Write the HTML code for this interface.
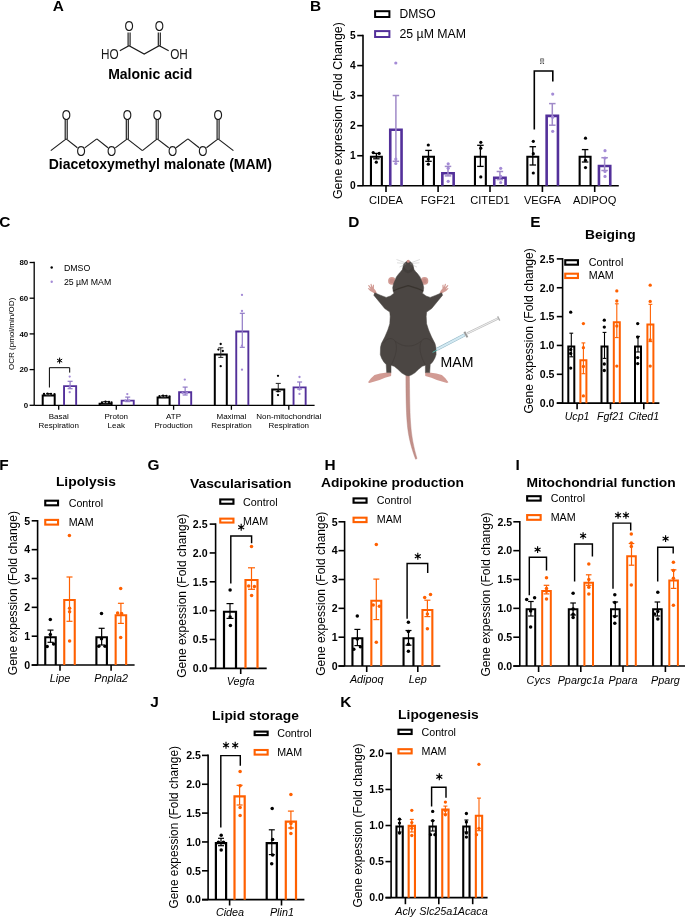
<!DOCTYPE html><html><head><meta charset="utf-8"><style>html,body{margin:0;padding:0;background:#fff;}svg{display:block;will-change:transform;}</style></head><body><svg width="685" height="918" viewBox="0 0 685 918" font-family='"Liberation Sans", sans-serif'>
<rect width="685" height="918" fill="#fff"/>
<text x="52.73" y="10.50" font-size="15.4" font-weight="bold" font-style="normal" text-anchor="start" fill="#000" >A</text>
<text x="310.12" y="10.50" font-size="15.4" font-weight="bold" font-style="normal" text-anchor="start" fill="#000" >B</text>
<text x="-0.73" y="227.00" font-size="15.4" font-weight="bold" font-style="normal" text-anchor="start" fill="#000" >C</text>
<text x="348.22" y="226.90" font-size="15.4" font-weight="bold" font-style="normal" text-anchor="start" fill="#000" >D</text>
<text x="530.22" y="226.90" font-size="15.4" font-weight="bold" font-style="normal" text-anchor="start" fill="#000" >E</text>
<text x="-0.83" y="469.70" font-size="15.4" font-weight="bold" font-style="normal" text-anchor="start" fill="#000" >F</text>
<text x="147.53" y="469.90" font-size="15.4" font-weight="bold" font-style="normal" text-anchor="start" fill="#000" >G</text>
<text x="324.42" y="469.70" font-size="15.4" font-weight="bold" font-style="normal" text-anchor="start" fill="#000" >H</text>
<text x="515.42" y="469.70" font-size="15.4" font-weight="bold" font-style="normal" text-anchor="start" fill="#000" >I</text>
<text x="150.15" y="707.40" font-size="15.4" font-weight="bold" font-style="normal" text-anchor="start" fill="#000" >J</text>
<text x="340.32" y="707.40" font-size="15.4" font-weight="bold" font-style="normal" text-anchor="start" fill="#000" >K</text>
<path d="M119.8,50.8 L129,45.7 L144.2,54.1 L159.2,45.7 L168.7,50.8" stroke="#1a1a1a" stroke-width="1.15" fill="none" stroke-linejoin="miter"/>
<line x1="128.10" y1="45.70" x2="128.10" y2="32.50" stroke="#1a1a1a" stroke-width="1.15" stroke-linecap="butt"/>
<line x1="130.10" y1="45.70" x2="130.10" y2="32.50" stroke="#1a1a1a" stroke-width="1.15" stroke-linecap="butt"/>
<line x1="158.30" y1="45.70" x2="158.30" y2="32.50" stroke="#1a1a1a" stroke-width="1.15" stroke-linecap="butt"/>
<line x1="160.30" y1="45.70" x2="160.30" y2="32.50" stroke="#1a1a1a" stroke-width="1.15" stroke-linecap="butt"/>
<text transform="translate(129.10,31.20) scale(1,1.2)" font-size="11.8" text-anchor="middle" fill="#1a1a1a">O</text>
<text transform="translate(159.30,31.20) scale(1,1.2)" font-size="11.8" text-anchor="middle" fill="#1a1a1a">O</text>
<text transform="translate(101.00,59.30) scale(1,1.2)" font-size="11.8" text-anchor="start" fill="#1a1a1a">HO</text>
<text transform="translate(170.20,59.30) scale(1,1.2)" font-size="11.8" text-anchor="start" fill="#1a1a1a">OH</text>
<text x="150.20" y="79.30" font-size="14" font-weight="bold" font-style="normal" text-anchor="middle" fill="#000" >Malonic acid</text>
<line x1="50.80" y1="150.60" x2="66.20" y2="138.90" stroke="#1a1a1a" stroke-width="1.15" stroke-linecap="butt"/>
<line x1="66.20" y1="138.90" x2="77.39" y2="147.75" stroke="#1a1a1a" stroke-width="1.15" stroke-linecap="butt"/>
<line x1="84.70" y1="147.86" x2="96.80" y2="138.90" stroke="#1a1a1a" stroke-width="1.15" stroke-linecap="butt"/>
<line x1="96.80" y1="138.90" x2="107.99" y2="147.75" stroke="#1a1a1a" stroke-width="1.15" stroke-linecap="butt"/>
<line x1="115.29" y1="147.85" x2="127.30" y2="138.90" stroke="#1a1a1a" stroke-width="1.15" stroke-linecap="butt"/>
<line x1="127.30" y1="138.90" x2="142.40" y2="150.60" stroke="#1a1a1a" stroke-width="1.15" stroke-linecap="butt"/>
<line x1="142.40" y1="150.60" x2="157.20" y2="138.90" stroke="#1a1a1a" stroke-width="1.15" stroke-linecap="butt"/>
<line x1="157.20" y1="138.90" x2="168.75" y2="147.79" stroke="#1a1a1a" stroke-width="1.15" stroke-linecap="butt"/>
<line x1="176.07" y1="147.83" x2="187.90" y2="138.90" stroke="#1a1a1a" stroke-width="1.15" stroke-linecap="butt"/>
<line x1="187.90" y1="138.90" x2="199.18" y2="147.76" stroke="#1a1a1a" stroke-width="1.15" stroke-linecap="butt"/>
<line x1="206.45" y1="147.81" x2="218.10" y2="138.90" stroke="#1a1a1a" stroke-width="1.15" stroke-linecap="butt"/>
<line x1="218.10" y1="138.90" x2="233.40" y2="150.60" stroke="#1a1a1a" stroke-width="1.15" stroke-linecap="butt"/>
<line x1="65.20" y1="138.90" x2="65.20" y2="119.60" stroke="#1a1a1a" stroke-width="1.15" stroke-linecap="butt"/>
<line x1="67.20" y1="138.90" x2="67.20" y2="119.60" stroke="#1a1a1a" stroke-width="1.15" stroke-linecap="butt"/>
<text transform="translate(66.30,119.50) scale(1,1.2)" font-size="11.8" text-anchor="middle" fill="#1a1a1a">O</text>
<line x1="126.30" y1="138.90" x2="126.30" y2="119.60" stroke="#1a1a1a" stroke-width="1.15" stroke-linecap="butt"/>
<line x1="128.30" y1="138.90" x2="128.30" y2="119.60" stroke="#1a1a1a" stroke-width="1.15" stroke-linecap="butt"/>
<text transform="translate(127.40,119.50) scale(1,1.2)" font-size="11.8" text-anchor="middle" fill="#1a1a1a">O</text>
<line x1="156.20" y1="138.90" x2="156.20" y2="119.60" stroke="#1a1a1a" stroke-width="1.15" stroke-linecap="butt"/>
<line x1="158.20" y1="138.90" x2="158.20" y2="119.60" stroke="#1a1a1a" stroke-width="1.15" stroke-linecap="butt"/>
<text transform="translate(157.30,119.50) scale(1,1.2)" font-size="11.8" text-anchor="middle" fill="#1a1a1a">O</text>
<line x1="217.10" y1="138.90" x2="217.10" y2="119.60" stroke="#1a1a1a" stroke-width="1.15" stroke-linecap="butt"/>
<line x1="219.10" y1="138.90" x2="219.10" y2="119.60" stroke="#1a1a1a" stroke-width="1.15" stroke-linecap="butt"/>
<text transform="translate(218.20,119.50) scale(1,1.2)" font-size="11.8" text-anchor="middle" fill="#1a1a1a">O</text>
<text transform="translate(81.10,156.40) scale(1,1.2)" font-size="11.8" text-anchor="middle" fill="#1a1a1a">O</text>
<text transform="translate(111.70,156.40) scale(1,1.2)" font-size="11.8" text-anchor="middle" fill="#1a1a1a">O</text>
<text transform="translate(172.50,156.40) scale(1,1.2)" font-size="11.8" text-anchor="middle" fill="#1a1a1a">O</text>
<text transform="translate(202.90,156.40) scale(1,1.2)" font-size="11.8" text-anchor="middle" fill="#1a1a1a">O</text>
<text x="160.30" y="168.80" font-size="14" font-weight="bold" font-style="normal" text-anchor="middle" fill="#000" >Diacetoxymethyl malonate (MAM)</text>
<text transform="translate(342.20,110.60) rotate(-90)" x="0" y="0" font-size="12.45" text-anchor="middle" fill="#000">Gene expression (Fold Change)</text>
<line x1="363.00" y1="34.75" x2="363.00" y2="185.80" stroke="#000" stroke-width="1.6" stroke-linecap="butt"/>
<line x1="357.20" y1="185.80" x2="363.00" y2="185.80" stroke="#000" stroke-width="1.6" stroke-linecap="butt"/>
<text x="355.60" y="189.47" font-size="10.2" font-weight="bold" font-style="normal" text-anchor="end" fill="#000" >0</text>
<line x1="357.20" y1="155.75" x2="363.00" y2="155.75" stroke="#000" stroke-width="1.6" stroke-linecap="butt"/>
<text x="355.60" y="159.42" font-size="10.2" font-weight="bold" font-style="normal" text-anchor="end" fill="#000" >1</text>
<line x1="357.20" y1="125.70" x2="363.00" y2="125.70" stroke="#000" stroke-width="1.6" stroke-linecap="butt"/>
<text x="355.60" y="129.37" font-size="10.2" font-weight="bold" font-style="normal" text-anchor="end" fill="#000" >2</text>
<line x1="357.20" y1="95.65" x2="363.00" y2="95.65" stroke="#000" stroke-width="1.6" stroke-linecap="butt"/>
<text x="355.60" y="99.32" font-size="10.2" font-weight="bold" font-style="normal" text-anchor="end" fill="#000" >3</text>
<line x1="357.20" y1="65.60" x2="363.00" y2="65.60" stroke="#000" stroke-width="1.6" stroke-linecap="butt"/>
<text x="355.60" y="69.27" font-size="10.2" font-weight="bold" font-style="normal" text-anchor="end" fill="#000" >4</text>
<line x1="357.20" y1="35.55" x2="363.00" y2="35.55" stroke="#000" stroke-width="1.6" stroke-linecap="butt"/>
<text x="355.60" y="39.22" font-size="10.2" font-weight="bold" font-style="normal" text-anchor="end" fill="#000" >5</text>
<line x1="363.00" y1="185.80" x2="618.80" y2="185.80" stroke="#000" stroke-width="1.6" stroke-linecap="butt"/>
<line x1="386.00" y1="185.80" x2="386.00" y2="192.00" stroke="#000" stroke-width="1.6" stroke-linecap="butt"/>
<line x1="438.10" y1="185.80" x2="438.10" y2="192.00" stroke="#000" stroke-width="1.6" stroke-linecap="butt"/>
<line x1="490.00" y1="185.80" x2="490.00" y2="192.00" stroke="#000" stroke-width="1.6" stroke-linecap="butt"/>
<line x1="542.40" y1="185.80" x2="542.40" y2="192.00" stroke="#000" stroke-width="1.6" stroke-linecap="butt"/>
<line x1="594.70" y1="185.80" x2="594.70" y2="192.00" stroke="#000" stroke-width="1.6" stroke-linecap="butt"/>
<text x="386.00" y="204.40" font-size="11.1" font-weight="normal" font-style="normal" text-anchor="middle" fill="#000" >CIDEA</text>
<text x="438.10" y="204.40" font-size="11.1" font-weight="normal" font-style="normal" text-anchor="middle" fill="#000" >FGF21</text>
<text x="490.00" y="204.40" font-size="11.1" font-weight="normal" font-style="normal" text-anchor="middle" fill="#000" >CITED1</text>
<text x="542.40" y="204.40" font-size="11.1" font-weight="normal" font-style="normal" text-anchor="middle" fill="#000" >VEGFA</text>
<text x="594.70" y="204.40" font-size="11.1" font-weight="normal" font-style="normal" text-anchor="middle" fill="#000" >ADIPOQ</text>
<path d="M370.95,185.80 V156.80 H381.85 V185.80" stroke="#000" stroke-width="2.1" fill="none"/>
<line x1="376.40" y1="153.40" x2="376.40" y2="158.80" stroke="#000" stroke-width="1.3" stroke-linecap="butt"/>
<line x1="373.15" y1="153.40" x2="379.65" y2="153.40" stroke="#000" stroke-width="1.3" stroke-linecap="butt"/>
<line x1="373.15" y1="158.80" x2="379.65" y2="158.80" stroke="#000" stroke-width="1.3" stroke-linecap="butt"/>
<circle cx="373.20" cy="152.60" r="1.6" fill="#000"/>
<circle cx="379.20" cy="153.40" r="1.6" fill="#000"/>
<circle cx="376.30" cy="162.20" r="1.6" fill="#000"/>
<path d="M390.25,185.80 V129.79 H401.55 V185.80" stroke="#53309a" stroke-width="2.6" fill="none"/>
<line x1="395.90" y1="95.50" x2="395.90" y2="161.30" stroke="#a08ac8" stroke-width="1.5" stroke-linecap="butt"/>
<line x1="392.65" y1="95.50" x2="399.15" y2="95.50" stroke="#a08ac8" stroke-width="1.5" stroke-linecap="butt"/>
<line x1="392.65" y1="161.30" x2="399.15" y2="161.30" stroke="#a08ac8" stroke-width="1.5" stroke-linecap="butt"/>
<circle cx="395.80" cy="63.00" r="1.6" fill="#a48bd6"/>
<circle cx="395.80" cy="159.10" r="1.6" fill="#a48bd6"/>
<circle cx="395.80" cy="163.50" r="1.6" fill="#a48bd6"/>
<path d="M423.05,185.80 V156.80 H433.95 V185.80" stroke="#000" stroke-width="2.1" fill="none"/>
<line x1="428.50" y1="150.40" x2="428.50" y2="161.30" stroke="#000" stroke-width="1.3" stroke-linecap="butt"/>
<line x1="425.25" y1="150.40" x2="431.75" y2="150.40" stroke="#000" stroke-width="1.3" stroke-linecap="butt"/>
<line x1="425.25" y1="161.30" x2="431.75" y2="161.30" stroke="#000" stroke-width="1.3" stroke-linecap="butt"/>
<circle cx="428.30" cy="145.00" r="1.6" fill="#000"/>
<circle cx="428.30" cy="159.10" r="1.6" fill="#000"/>
<circle cx="428.30" cy="164.20" r="1.6" fill="#000"/>
<path d="M442.35,185.80 V173.28 H453.65 V185.80" stroke="#53309a" stroke-width="2.6" fill="none"/>
<line x1="448.00" y1="166.40" x2="448.00" y2="175.90" stroke="#a08ac8" stroke-width="1.5" stroke-linecap="butt"/>
<line x1="444.75" y1="166.40" x2="451.25" y2="166.40" stroke="#a08ac8" stroke-width="1.5" stroke-linecap="butt"/>
<line x1="444.75" y1="175.90" x2="451.25" y2="175.90" stroke="#a08ac8" stroke-width="1.5" stroke-linecap="butt"/>
<circle cx="448.20" cy="163.80" r="1.6" fill="#a48bd6"/>
<circle cx="448.20" cy="168.20" r="1.6" fill="#a48bd6"/>
<circle cx="448.20" cy="181.30" r="1.6" fill="#a48bd6"/>
<path d="M474.95,185.80 V156.80 H485.85 V185.80" stroke="#000" stroke-width="2.1" fill="none"/>
<line x1="480.40" y1="145.30" x2="480.40" y2="166.40" stroke="#000" stroke-width="1.3" stroke-linecap="butt"/>
<line x1="477.15" y1="145.30" x2="483.65" y2="145.30" stroke="#000" stroke-width="1.3" stroke-linecap="butt"/>
<line x1="477.15" y1="166.40" x2="483.65" y2="166.40" stroke="#000" stroke-width="1.3" stroke-linecap="butt"/>
<circle cx="480.80" cy="142.30" r="1.6" fill="#000"/>
<circle cx="480.80" cy="148.20" r="1.6" fill="#000"/>
<circle cx="480.80" cy="176.90" r="1.6" fill="#000"/>
<path d="M494.25,185.80 V177.78 H505.55 V185.80" stroke="#53309a" stroke-width="2.6" fill="none"/>
<line x1="499.90" y1="171.50" x2="499.90" y2="179.60" stroke="#a08ac8" stroke-width="1.5" stroke-linecap="butt"/>
<line x1="496.65" y1="171.50" x2="503.15" y2="171.50" stroke="#a08ac8" stroke-width="1.5" stroke-linecap="butt"/>
<line x1="496.65" y1="179.60" x2="503.15" y2="179.60" stroke="#a08ac8" stroke-width="1.5" stroke-linecap="butt"/>
<circle cx="500.70" cy="168.30" r="1.6" fill="#a48bd6"/>
<circle cx="500.70" cy="176.40" r="1.6" fill="#a48bd6"/>
<circle cx="500.70" cy="182.50" r="1.6" fill="#a48bd6"/>
<path d="M527.35,185.80 V156.80 H538.25 V185.80" stroke="#000" stroke-width="2.1" fill="none"/>
<line x1="532.80" y1="146.70" x2="532.80" y2="165.00" stroke="#000" stroke-width="1.3" stroke-linecap="butt"/>
<line x1="529.55" y1="146.70" x2="536.05" y2="146.70" stroke="#000" stroke-width="1.3" stroke-linecap="butt"/>
<line x1="529.55" y1="165.00" x2="536.05" y2="165.00" stroke="#000" stroke-width="1.3" stroke-linecap="butt"/>
<circle cx="533.30" cy="141.30" r="1.6" fill="#000"/>
<circle cx="533.30" cy="153.70" r="1.6" fill="#000"/>
<circle cx="533.30" cy="173.00" r="1.6" fill="#000"/>
<path d="M546.65,185.80 V115.88 H557.95 V185.80" stroke="#53309a" stroke-width="2.6" fill="none"/>
<line x1="552.30" y1="103.60" x2="552.30" y2="125.20" stroke="#a08ac8" stroke-width="1.5" stroke-linecap="butt"/>
<line x1="549.05" y1="103.60" x2="555.55" y2="103.60" stroke="#a08ac8" stroke-width="1.5" stroke-linecap="butt"/>
<line x1="549.05" y1="125.20" x2="555.55" y2="125.20" stroke="#a08ac8" stroke-width="1.5" stroke-linecap="butt"/>
<circle cx="552.70" cy="94.10" r="1.6" fill="#a48bd6"/>
<circle cx="552.70" cy="117.20" r="1.6" fill="#a48bd6"/>
<circle cx="552.70" cy="131.30" r="1.6" fill="#a48bd6"/>
<path d="M579.65,185.80 V156.80 H590.55 V185.80" stroke="#000" stroke-width="2.1" fill="none"/>
<line x1="585.10" y1="149.60" x2="585.10" y2="162.00" stroke="#000" stroke-width="1.3" stroke-linecap="butt"/>
<line x1="581.85" y1="149.60" x2="588.35" y2="149.60" stroke="#000" stroke-width="1.3" stroke-linecap="butt"/>
<line x1="581.85" y1="162.00" x2="588.35" y2="162.00" stroke="#000" stroke-width="1.3" stroke-linecap="butt"/>
<circle cx="585.50" cy="138.20" r="1.6" fill="#000"/>
<circle cx="585.50" cy="160.30" r="1.6" fill="#000"/>
<circle cx="585.50" cy="167.60" r="1.6" fill="#000"/>
<path d="M598.95,185.80 V166.07 H610.25 V185.80" stroke="#53309a" stroke-width="2.6" fill="none"/>
<line x1="604.60" y1="157.70" x2="604.60" y2="170.50" stroke="#a08ac8" stroke-width="1.5" stroke-linecap="butt"/>
<line x1="601.35" y1="157.70" x2="607.85" y2="157.70" stroke="#a08ac8" stroke-width="1.5" stroke-linecap="butt"/>
<line x1="601.35" y1="170.50" x2="607.85" y2="170.50" stroke="#a08ac8" stroke-width="1.5" stroke-linecap="butt"/>
<circle cx="605.00" cy="150.70" r="1.6" fill="#a48bd6"/>
<circle cx="605.00" cy="158.00" r="1.6" fill="#a48bd6"/>
<circle cx="605.00" cy="171.50" r="1.6" fill="#a48bd6"/>
<circle cx="605.00" cy="176.40" r="1.6" fill="#a48bd6"/>
<path d="M534.3,129.6 V71.0 H552.8 V81.4" stroke="#000" stroke-width="1.6" fill="none" stroke-linejoin="miter"/>
<rect x="540.3" y="58.4" width="3.5" height="5.4" fill="#d8d8d8" stroke="none"/>
<path d="M540.5,61.6 V58.8 H543.6 V61.6" fill="none" stroke="#666" stroke-width="0.8"/>
<path d="M540.6,59.6 L543.5,63.4 M543.5,59.6 L540.6,63.4" stroke="#999" stroke-width="0.6"/>
<circle cx="540.70" cy="63.30" r="0.65" fill="#333"/>
<circle cx="543.50" cy="63.30" r="0.65" fill="#333"/>
<rect x="375.10" y="11.20" width="14.30" height="5.80" stroke="#000" stroke-width="2.0" fill="none"/>
<rect x="375.10" y="31.10" width="14.30" height="5.90" stroke="#53309a" stroke-width="2.0" fill="none"/>
<text x="399.50" y="18.40" font-size="12.1" font-weight="normal" font-style="normal" text-anchor="start" fill="#000" >DMSO</text>
<text x="399.50" y="38.30" font-size="12.3" font-weight="normal" font-style="normal" text-anchor="start" fill="#000" >25 µM MAM</text>
<text transform="translate(14.30,333.90) rotate(-90)" x="0" y="0" font-size="8.05" text-anchor="middle" fill="#000">OCR (pmol/min/OD)</text>
<line x1="34.20" y1="261.85" x2="34.20" y2="405.30" stroke="#000" stroke-width="1.3" stroke-linecap="butt"/>
<line x1="29.60" y1="405.30" x2="34.20" y2="405.30" stroke="#000" stroke-width="1.3" stroke-linecap="butt"/>
<text x="28.20" y="408.14" font-size="7.9" font-weight="bold" font-style="normal" text-anchor="end" fill="#000" >0</text>
<line x1="29.60" y1="369.60" x2="34.20" y2="369.60" stroke="#000" stroke-width="1.3" stroke-linecap="butt"/>
<text x="28.20" y="372.44" font-size="7.9" font-weight="bold" font-style="normal" text-anchor="end" fill="#000" >20</text>
<line x1="29.60" y1="333.90" x2="34.20" y2="333.90" stroke="#000" stroke-width="1.3" stroke-linecap="butt"/>
<text x="28.20" y="336.74" font-size="7.9" font-weight="bold" font-style="normal" text-anchor="end" fill="#000" >40</text>
<line x1="29.60" y1="298.20" x2="34.20" y2="298.20" stroke="#000" stroke-width="1.3" stroke-linecap="butt"/>
<text x="28.20" y="301.04" font-size="7.9" font-weight="bold" font-style="normal" text-anchor="end" fill="#000" >60</text>
<line x1="29.60" y1="262.50" x2="34.20" y2="262.50" stroke="#000" stroke-width="1.3" stroke-linecap="butt"/>
<text x="28.20" y="265.34" font-size="7.9" font-weight="bold" font-style="normal" text-anchor="end" fill="#000" >80</text>
<line x1="34.20" y1="405.30" x2="314.60" y2="405.30" stroke="#000" stroke-width="1.3" stroke-linecap="butt"/>
<line x1="58.70" y1="405.30" x2="58.70" y2="409.80" stroke="#000" stroke-width="1.3" stroke-linecap="butt"/>
<line x1="116.30" y1="405.30" x2="116.30" y2="409.80" stroke="#000" stroke-width="1.3" stroke-linecap="butt"/>
<line x1="173.60" y1="405.30" x2="173.60" y2="409.80" stroke="#000" stroke-width="1.3" stroke-linecap="butt"/>
<line x1="231.40" y1="405.30" x2="231.40" y2="409.80" stroke="#000" stroke-width="1.3" stroke-linecap="butt"/>
<line x1="288.80" y1="405.30" x2="288.80" y2="409.80" stroke="#000" stroke-width="1.3" stroke-linecap="butt"/>
<text x="58.70" y="418.90" font-size="8.0" font-weight="normal" font-style="normal" text-anchor="middle" fill="#000" >Basal</text>
<text x="58.70" y="428.10" font-size="8.0" font-weight="normal" font-style="normal" text-anchor="middle" fill="#000" >Respiration</text>
<text x="116.30" y="418.90" font-size="8.0" font-weight="normal" font-style="normal" text-anchor="middle" fill="#000" >Proton</text>
<text x="116.30" y="428.10" font-size="8.0" font-weight="normal" font-style="normal" text-anchor="middle" fill="#000" >Leak</text>
<text x="173.60" y="418.90" font-size="8.0" font-weight="normal" font-style="normal" text-anchor="middle" fill="#000" >ATP</text>
<text x="173.60" y="428.10" font-size="8.0" font-weight="normal" font-style="normal" text-anchor="middle" fill="#000" >Production</text>
<text x="231.40" y="418.90" font-size="8.0" font-weight="normal" font-style="normal" text-anchor="middle" fill="#000" >Maximal</text>
<text x="231.40" y="428.10" font-size="8.0" font-weight="normal" font-style="normal" text-anchor="middle" fill="#000" >Respiration</text>
<text x="288.80" y="418.90" font-size="8.0" font-weight="normal" font-style="normal" text-anchor="middle" fill="#000" >Non-mitochondrial</text>
<text x="288.80" y="428.10" font-size="8.0" font-weight="normal" font-style="normal" text-anchor="middle" fill="#000" >Respiration</text>
<path d="M42.70,405.30 V395.50 H54.70 V405.30" stroke="#000" stroke-width="2.0" fill="none"/>
<line x1="48.70" y1="393.50" x2="48.70" y2="395.50" stroke="#222" stroke-width="1.0" stroke-linecap="butt"/>
<line x1="46.20" y1="393.50" x2="51.20" y2="393.50" stroke="#222" stroke-width="1.0" stroke-linecap="butt"/>
<line x1="46.20" y1="395.50" x2="51.20" y2="395.50" stroke="#222" stroke-width="1.0" stroke-linecap="butt"/>
<circle cx="44.00" cy="394.00" r="1.15" fill="#000"/>
<circle cx="47.50" cy="393.60" r="1.15" fill="#000"/>
<circle cx="51.00" cy="393.80" r="1.15" fill="#000"/>
<circle cx="54.50" cy="394.20" r="1.15" fill="#000"/>
<path d="M64.05,405.30 V386.15 H76.15 V405.30" stroke="#53309a" stroke-width="1.9" fill="none"/>
<line x1="70.10" y1="381.30" x2="70.10" y2="388.70" stroke="#9079c6" stroke-width="1.2" stroke-linecap="butt"/>
<line x1="67.60" y1="381.30" x2="72.60" y2="381.30" stroke="#9079c6" stroke-width="1.2" stroke-linecap="butt"/>
<line x1="67.60" y1="388.70" x2="72.60" y2="388.70" stroke="#9079c6" stroke-width="1.2" stroke-linecap="butt"/>
<circle cx="69.70" cy="376.60" r="1.15" fill="#a48bd6"/>
<circle cx="69.70" cy="387.50" r="1.15" fill="#a48bd6"/>
<circle cx="69.70" cy="392.20" r="1.15" fill="#a48bd6"/>
<path d="M99.60,405.30 V403.70 H111.60 V405.30" stroke="#000" stroke-width="2.0" fill="none"/>
<line x1="105.60" y1="401.60" x2="105.60" y2="403.80" stroke="#222" stroke-width="1.0" stroke-linecap="butt"/>
<line x1="103.10" y1="401.60" x2="108.10" y2="401.60" stroke="#222" stroke-width="1.0" stroke-linecap="butt"/>
<line x1="103.10" y1="403.80" x2="108.10" y2="403.80" stroke="#222" stroke-width="1.0" stroke-linecap="butt"/>
<circle cx="102.00" cy="402.30" r="1.15" fill="#000"/>
<circle cx="105.50" cy="401.60" r="1.15" fill="#000"/>
<circle cx="109.00" cy="402.00" r="1.15" fill="#000"/>
<circle cx="111.50" cy="402.40" r="1.15" fill="#000"/>
<path d="M121.65,405.30 V400.65 H133.75 V405.30" stroke="#53309a" stroke-width="1.9" fill="none"/>
<line x1="127.70" y1="397.10" x2="127.70" y2="401.60" stroke="#9079c6" stroke-width="1.2" stroke-linecap="butt"/>
<line x1="125.20" y1="397.10" x2="130.20" y2="397.10" stroke="#9079c6" stroke-width="1.2" stroke-linecap="butt"/>
<line x1="125.20" y1="401.60" x2="130.20" y2="401.60" stroke="#9079c6" stroke-width="1.2" stroke-linecap="butt"/>
<circle cx="127.30" cy="394.10" r="1.15" fill="#a48bd6"/>
<circle cx="125.50" cy="400.40" r="1.15" fill="#a48bd6"/>
<circle cx="129.20" cy="400.40" r="1.15" fill="#a48bd6"/>
<path d="M157.60,405.30 V397.60 H169.60 V405.30" stroke="#000" stroke-width="2.0" fill="none"/>
<line x1="163.60" y1="395.60" x2="163.60" y2="397.60" stroke="#222" stroke-width="1.0" stroke-linecap="butt"/>
<line x1="161.10" y1="395.60" x2="166.10" y2="395.60" stroke="#222" stroke-width="1.0" stroke-linecap="butt"/>
<line x1="161.10" y1="397.60" x2="166.10" y2="397.60" stroke="#222" stroke-width="1.0" stroke-linecap="butt"/>
<circle cx="159.50" cy="396.20" r="1.15" fill="#000"/>
<circle cx="163.00" cy="395.60" r="1.15" fill="#000"/>
<circle cx="166.50" cy="395.80" r="1.15" fill="#000"/>
<circle cx="169.50" cy="396.30" r="1.15" fill="#000"/>
<path d="M179.10,405.30 V392.25 H191.20 V405.30" stroke="#53309a" stroke-width="1.9" fill="none"/>
<line x1="185.15" y1="387.10" x2="185.15" y2="395.00" stroke="#9079c6" stroke-width="1.2" stroke-linecap="butt"/>
<line x1="182.65" y1="387.10" x2="187.65" y2="387.10" stroke="#9079c6" stroke-width="1.2" stroke-linecap="butt"/>
<line x1="182.65" y1="395.00" x2="187.65" y2="395.00" stroke="#9079c6" stroke-width="1.2" stroke-linecap="butt"/>
<circle cx="184.80" cy="379.60" r="1.15" fill="#a48bd6"/>
<circle cx="182.60" cy="393.00" r="1.15" fill="#a48bd6"/>
<circle cx="187.00" cy="393.00" r="1.15" fill="#a48bd6"/>
<path d="M214.80,405.30 V354.40 H226.80 V405.30" stroke="#000" stroke-width="2.0" fill="none"/>
<line x1="220.80" y1="347.80" x2="220.80" y2="357.40" stroke="#222" stroke-width="1.0" stroke-linecap="butt"/>
<line x1="218.30" y1="347.80" x2="223.30" y2="347.80" stroke="#222" stroke-width="1.0" stroke-linecap="butt"/>
<line x1="218.30" y1="357.40" x2="223.30" y2="357.40" stroke="#222" stroke-width="1.0" stroke-linecap="butt"/>
<circle cx="220.70" cy="344.00" r="1.15" fill="#000"/>
<circle cx="218.40" cy="349.60" r="1.15" fill="#000"/>
<circle cx="222.80" cy="351.00" r="1.15" fill="#000"/>
<circle cx="220.70" cy="366.20" r="1.15" fill="#000"/>
<path d="M236.25,405.30 V331.45 H248.35 V405.30" stroke="#53309a" stroke-width="1.9" fill="none"/>
<line x1="242.30" y1="313.30" x2="242.30" y2="347.30" stroke="#9079c6" stroke-width="1.2" stroke-linecap="butt"/>
<line x1="239.80" y1="313.30" x2="244.80" y2="313.30" stroke="#9079c6" stroke-width="1.2" stroke-linecap="butt"/>
<line x1="239.80" y1="347.30" x2="244.80" y2="347.30" stroke="#9079c6" stroke-width="1.2" stroke-linecap="butt"/>
<circle cx="242.00" cy="294.90" r="1.15" fill="#a48bd6"/>
<circle cx="242.00" cy="311.00" r="1.15" fill="#a48bd6"/>
<circle cx="242.00" cy="345.70" r="1.15" fill="#a48bd6"/>
<circle cx="242.00" cy="369.70" r="1.15" fill="#a48bd6"/>
<path d="M272.25,405.30 V389.50 H284.25 V405.30" stroke="#000" stroke-width="2.0" fill="none"/>
<line x1="278.25" y1="383.40" x2="278.25" y2="391.60" stroke="#222" stroke-width="1.0" stroke-linecap="butt"/>
<line x1="275.75" y1="383.40" x2="280.75" y2="383.40" stroke="#222" stroke-width="1.0" stroke-linecap="butt"/>
<line x1="275.75" y1="391.60" x2="280.75" y2="391.60" stroke="#222" stroke-width="1.0" stroke-linecap="butt"/>
<circle cx="278.00" cy="375.80" r="1.15" fill="#000"/>
<circle cx="278.00" cy="391.30" r="1.15" fill="#000"/>
<circle cx="278.00" cy="395.10" r="1.15" fill="#000"/>
<path d="M293.55,405.30 V387.35 H305.65 V405.30" stroke="#53309a" stroke-width="1.9" fill="none"/>
<line x1="299.60" y1="382.00" x2="299.60" y2="389.00" stroke="#9079c6" stroke-width="1.2" stroke-linecap="butt"/>
<line x1="297.10" y1="382.00" x2="302.10" y2="382.00" stroke="#9079c6" stroke-width="1.2" stroke-linecap="butt"/>
<line x1="297.10" y1="389.00" x2="302.10" y2="389.00" stroke="#9079c6" stroke-width="1.2" stroke-linecap="butt"/>
<circle cx="299.50" cy="377.00" r="1.15" fill="#a48bd6"/>
<circle cx="299.50" cy="389.50" r="1.15" fill="#a48bd6"/>
<circle cx="299.50" cy="393.90" r="1.15" fill="#a48bd6"/>
<path d="M49.4,387.5 V367.7 H69.7 V372.6" stroke="#000" stroke-width="1.0" fill="none" stroke-linejoin="miter"/>
<path d="M59.60,363.60 L59.60,357.60 M57.00,362.10 L62.20,359.10 M62.20,362.10 L57.00,359.10 " stroke="#000" stroke-width="1.0" stroke-linecap="butt"/>
<circle cx="59.60" cy="360.60" r="0.95" fill="#000"/>
<circle cx="51.70" cy="267.50" r="1.2" fill="#000"/>
<circle cx="51.70" cy="281.80" r="1.2" fill="#a48bd6"/>
<text x="63.90" y="271.30" font-size="8.8" font-weight="normal" font-style="normal" text-anchor="start" fill="#000" >DMSO</text>
<text x="63.90" y="284.90" font-size="8.75" font-weight="normal" font-style="normal" text-anchor="start" fill="#000" >25 µM MAM</text>
<text transform="translate(533.20,330.85) rotate(-90)" x="0" y="0" font-size="12.1" text-anchor="middle" fill="#000">Gene expession (Fold change)</text>
<line x1="562.60" y1="258.10" x2="562.60" y2="403.15" stroke="#000" stroke-width="1.6" stroke-linecap="butt"/>
<line x1="556.80" y1="403.15" x2="562.60" y2="403.15" stroke="#000" stroke-width="1.6" stroke-linecap="butt"/>
<text x="554.50" y="406.97" font-size="10.6" font-weight="bold" font-style="normal" text-anchor="end" fill="#000" >0.0</text>
<line x1="556.80" y1="374.30" x2="562.60" y2="374.30" stroke="#000" stroke-width="1.6" stroke-linecap="butt"/>
<text x="554.50" y="378.12" font-size="10.6" font-weight="bold" font-style="normal" text-anchor="end" fill="#000" >0.5</text>
<line x1="556.80" y1="345.45" x2="562.60" y2="345.45" stroke="#000" stroke-width="1.6" stroke-linecap="butt"/>
<text x="554.50" y="349.27" font-size="10.6" font-weight="bold" font-style="normal" text-anchor="end" fill="#000" >1.0</text>
<line x1="556.80" y1="316.60" x2="562.60" y2="316.60" stroke="#000" stroke-width="1.6" stroke-linecap="butt"/>
<text x="554.50" y="320.42" font-size="10.6" font-weight="bold" font-style="normal" text-anchor="end" fill="#000" >1.5</text>
<line x1="556.80" y1="287.75" x2="562.60" y2="287.75" stroke="#000" stroke-width="1.6" stroke-linecap="butt"/>
<text x="554.50" y="291.57" font-size="10.6" font-weight="bold" font-style="normal" text-anchor="end" fill="#000" >2.0</text>
<line x1="556.80" y1="258.90" x2="562.60" y2="258.90" stroke="#000" stroke-width="1.6" stroke-linecap="butt"/>
<text x="554.50" y="262.72" font-size="10.6" font-weight="bold" font-style="normal" text-anchor="end" fill="#000" >2.5</text>
<line x1="556.80" y1="403.15" x2="659.40" y2="403.15" stroke="#000" stroke-width="1.6" stroke-linecap="butt"/>
<line x1="577.10" y1="403.15" x2="577.10" y2="409.20" stroke="#000" stroke-width="1.6" stroke-linecap="butt"/>
<line x1="610.50" y1="403.15" x2="610.50" y2="409.20" stroke="#000" stroke-width="1.6" stroke-linecap="butt"/>
<line x1="643.80" y1="403.15" x2="643.80" y2="409.20" stroke="#000" stroke-width="1.6" stroke-linecap="butt"/>
<text x="577.10" y="420.10" font-size="10.6" font-weight="normal" font-style="italic" text-anchor="middle" fill="#000" >Ucp1</text>
<text x="610.50" y="420.10" font-size="10.6" font-weight="normal" font-style="italic" text-anchor="middle" fill="#000" >Fgf21</text>
<text x="643.80" y="420.10" font-size="10.6" font-weight="normal" font-style="italic" text-anchor="middle" fill="#000" >Cited1</text>
<path d="M568.30,403.15 V346.45 H574.30 V403.15" stroke="#000" stroke-width="2.0" fill="none"/>
<line x1="571.30" y1="333.20" x2="571.30" y2="356.80" stroke="#000" stroke-width="1.1" stroke-linecap="butt"/>
<line x1="569.40" y1="333.20" x2="573.20" y2="333.20" stroke="#000" stroke-width="1.1" stroke-linecap="butt"/>
<line x1="569.40" y1="356.80" x2="573.20" y2="356.80" stroke="#000" stroke-width="1.1" stroke-linecap="butt"/>
<circle cx="570.70" cy="312.20" r="1.65" fill="#000"/>
<circle cx="570.70" cy="349.60" r="1.65" fill="#000"/>
<circle cx="570.70" cy="353.50" r="1.65" fill="#000"/>
<circle cx="570.70" cy="368.10" r="1.65" fill="#000"/>
<path d="M580.40,403.15 V360.30 H586.40 V403.15" stroke="#ff6000" stroke-width="2.0" fill="none"/>
<line x1="583.40" y1="342.90" x2="583.40" y2="373.70" stroke="#ff6000" stroke-width="1.1" stroke-linecap="butt"/>
<line x1="581.50" y1="342.90" x2="585.30" y2="342.90" stroke="#ff6000" stroke-width="1.1" stroke-linecap="butt"/>
<line x1="581.50" y1="373.70" x2="585.30" y2="373.70" stroke="#ff6000" stroke-width="1.1" stroke-linecap="butt"/>
<circle cx="583.40" cy="323.60" r="1.65" fill="#ff6000"/>
<circle cx="583.40" cy="347.70" r="1.65" fill="#ff6000"/>
<circle cx="583.40" cy="366.50" r="1.65" fill="#ff6000"/>
<circle cx="583.40" cy="395.90" r="1.65" fill="#ff6000"/>
<path d="M601.50,403.15 V346.45 H607.50 V403.15" stroke="#000" stroke-width="2.0" fill="none"/>
<line x1="604.50" y1="332.40" x2="604.50" y2="358.40" stroke="#000" stroke-width="1.1" stroke-linecap="butt"/>
<line x1="602.60" y1="332.40" x2="606.40" y2="332.40" stroke="#000" stroke-width="1.1" stroke-linecap="butt"/>
<line x1="602.60" y1="358.40" x2="606.40" y2="358.40" stroke="#000" stroke-width="1.1" stroke-linecap="butt"/>
<circle cx="604.30" cy="320.20" r="1.65" fill="#000"/>
<circle cx="604.30" cy="327.10" r="1.65" fill="#000"/>
<circle cx="604.30" cy="364.00" r="1.65" fill="#000"/>
<circle cx="604.30" cy="370.50" r="1.65" fill="#000"/>
<path d="M613.80,403.15 V322.22 H619.80 V403.15" stroke="#ff6000" stroke-width="2.0" fill="none"/>
<line x1="616.80" y1="303.80" x2="616.80" y2="337.60" stroke="#ff6000" stroke-width="1.1" stroke-linecap="butt"/>
<line x1="614.90" y1="303.80" x2="618.70" y2="303.80" stroke="#ff6000" stroke-width="1.1" stroke-linecap="butt"/>
<line x1="614.90" y1="337.60" x2="618.70" y2="337.60" stroke="#ff6000" stroke-width="1.1" stroke-linecap="butt"/>
<circle cx="616.80" cy="290.90" r="1.65" fill="#ff6000"/>
<circle cx="616.80" cy="301.00" r="1.65" fill="#ff6000"/>
<circle cx="616.80" cy="326.00" r="1.65" fill="#ff6000"/>
<circle cx="616.80" cy="366.10" r="1.65" fill="#ff6000"/>
<path d="M635.00,403.15 V346.45 H641.00 V403.15" stroke="#000" stroke-width="2.0" fill="none"/>
<line x1="638.00" y1="336.40" x2="638.00" y2="352.00" stroke="#000" stroke-width="1.1" stroke-linecap="butt"/>
<line x1="636.10" y1="336.40" x2="639.90" y2="336.40" stroke="#000" stroke-width="1.1" stroke-linecap="butt"/>
<line x1="636.10" y1="352.00" x2="639.90" y2="352.00" stroke="#000" stroke-width="1.1" stroke-linecap="butt"/>
<circle cx="637.70" cy="323.60" r="1.65" fill="#000"/>
<circle cx="637.70" cy="337.10" r="1.65" fill="#000"/>
<circle cx="637.70" cy="357.60" r="1.65" fill="#000"/>
<circle cx="637.70" cy="363.60" r="1.65" fill="#000"/>
<path d="M647.40,403.15 V324.52 H653.40 V403.15" stroke="#ff6000" stroke-width="2.0" fill="none"/>
<line x1="650.40" y1="304.30" x2="650.40" y2="341.60" stroke="#ff6000" stroke-width="1.1" stroke-linecap="butt"/>
<line x1="648.50" y1="304.30" x2="652.30" y2="304.30" stroke="#ff6000" stroke-width="1.1" stroke-linecap="butt"/>
<line x1="648.50" y1="341.60" x2="652.30" y2="341.60" stroke="#ff6000" stroke-width="1.1" stroke-linecap="butt"/>
<circle cx="650.20" cy="285.20" r="1.65" fill="#ff6000"/>
<circle cx="650.20" cy="301.40" r="1.65" fill="#ff6000"/>
<circle cx="650.20" cy="340.00" r="1.65" fill="#ff6000"/>
<circle cx="650.20" cy="366.10" r="1.65" fill="#ff6000"/>
<rect x="565.25" y="260.20" width="12.70" height="4.50" stroke="#000" stroke-width="2.1" fill="none"/>
<rect x="565.25" y="273.70" width="12.70" height="4.30" stroke="#ff6000" stroke-width="2.1" fill="none"/>
<text x="588.80" y="266.40" font-size="10.7" font-weight="normal" font-style="normal" text-anchor="start" fill="#000" >Control</text>
<text x="588.80" y="279.20" font-size="10.7" font-weight="normal" font-style="normal" text-anchor="start" fill="#000" >MAM</text>
<text transform="translate(585.00,239.00) scale(1,0.93)" font-size="13.85" font-weight="bold">Beiging</text>
<text transform="translate(17.00,593.10) rotate(-90)" x="0" y="0" font-size="12.0" text-anchor="middle" fill="#000">Gene expession (Fold change)</text>
<line x1="37.60" y1="520.00" x2="37.60" y2="665.05" stroke="#000" stroke-width="1.6" stroke-linecap="butt"/>
<line x1="31.70" y1="665.05" x2="37.60" y2="665.05" stroke="#000" stroke-width="1.6" stroke-linecap="butt"/>
<text x="30.20" y="668.87" font-size="10.6" font-weight="bold" font-style="normal" text-anchor="end" fill="#000" >0</text>
<line x1="31.70" y1="636.20" x2="37.60" y2="636.20" stroke="#000" stroke-width="1.6" stroke-linecap="butt"/>
<text x="30.20" y="640.02" font-size="10.6" font-weight="bold" font-style="normal" text-anchor="end" fill="#000" >1</text>
<line x1="31.70" y1="607.35" x2="37.60" y2="607.35" stroke="#000" stroke-width="1.6" stroke-linecap="butt"/>
<text x="30.20" y="611.17" font-size="10.6" font-weight="bold" font-style="normal" text-anchor="end" fill="#000" >2</text>
<line x1="31.70" y1="578.50" x2="37.60" y2="578.50" stroke="#000" stroke-width="1.6" stroke-linecap="butt"/>
<text x="30.20" y="582.32" font-size="10.6" font-weight="bold" font-style="normal" text-anchor="end" fill="#000" >3</text>
<line x1="31.70" y1="549.65" x2="37.60" y2="549.65" stroke="#000" stroke-width="1.6" stroke-linecap="butt"/>
<text x="30.20" y="553.47" font-size="10.6" font-weight="bold" font-style="normal" text-anchor="end" fill="#000" >4</text>
<line x1="31.70" y1="520.80" x2="37.60" y2="520.80" stroke="#000" stroke-width="1.6" stroke-linecap="butt"/>
<text x="30.20" y="524.62" font-size="10.6" font-weight="bold" font-style="normal" text-anchor="end" fill="#000" >5</text>
<line x1="31.70" y1="665.05" x2="134.60" y2="665.05" stroke="#000" stroke-width="1.6" stroke-linecap="butt"/>
<line x1="60.00" y1="665.05" x2="60.00" y2="670.70" stroke="#000" stroke-width="1.6" stroke-linecap="butt"/>
<line x1="111.10" y1="665.05" x2="111.10" y2="670.70" stroke="#000" stroke-width="1.6" stroke-linecap="butt"/>
<text x="60.00" y="682.30" font-size="10.8" font-weight="normal" font-style="italic" text-anchor="middle" fill="#000" >Lipe</text>
<text x="111.10" y="682.30" font-size="10.8" font-weight="normal" font-style="italic" text-anchor="middle" fill="#000" >Pnpla2</text>
<path d="M45.25,665.05 V637.25 H55.75 V665.05" stroke="#000" stroke-width="2.1" fill="none"/>
<line x1="50.50" y1="630.10" x2="50.50" y2="642.30" stroke="#000" stroke-width="1.2" stroke-linecap="butt"/>
<line x1="47.50" y1="630.10" x2="53.50" y2="630.10" stroke="#000" stroke-width="1.2" stroke-linecap="butt"/>
<line x1="47.50" y1="642.30" x2="53.50" y2="642.30" stroke="#000" stroke-width="1.2" stroke-linecap="butt"/>
<circle cx="50.30" cy="619.60" r="1.75" fill="#000"/>
<circle cx="50.30" cy="634.50" r="1.75" fill="#000"/>
<circle cx="47.20" cy="646.40" r="1.75" fill="#000"/>
<circle cx="53.60" cy="644.10" r="1.75" fill="#000"/>
<path d="M64.25,665.05 V600.03 H74.75 V665.05" stroke="#ff6000" stroke-width="2.1" fill="none"/>
<line x1="69.50" y1="577.00" x2="69.50" y2="621.30" stroke="#ff6000" stroke-width="1.2" stroke-linecap="butt"/>
<line x1="66.50" y1="577.00" x2="72.50" y2="577.00" stroke="#ff6000" stroke-width="1.2" stroke-linecap="butt"/>
<line x1="66.50" y1="621.30" x2="72.50" y2="621.30" stroke="#ff6000" stroke-width="1.2" stroke-linecap="butt"/>
<circle cx="69.40" cy="535.60" r="1.75" fill="#ff6000"/>
<circle cx="69.60" cy="608.20" r="1.75" fill="#ff6000"/>
<circle cx="69.60" cy="611.70" r="1.75" fill="#ff6000"/>
<circle cx="69.60" cy="640.90" r="1.75" fill="#ff6000"/>
<path d="M96.40,665.05 V637.25 H106.90 V665.05" stroke="#000" stroke-width="2.1" fill="none"/>
<line x1="101.65" y1="628.30" x2="101.65" y2="645.00" stroke="#000" stroke-width="1.2" stroke-linecap="butt"/>
<line x1="98.65" y1="628.30" x2="104.65" y2="628.30" stroke="#000" stroke-width="1.2" stroke-linecap="butt"/>
<line x1="98.65" y1="645.00" x2="104.65" y2="645.00" stroke="#000" stroke-width="1.2" stroke-linecap="butt"/>
<circle cx="101.50" cy="613.40" r="1.75" fill="#000"/>
<circle cx="101.50" cy="638.80" r="1.75" fill="#000"/>
<circle cx="98.80" cy="646.20" r="1.75" fill="#000"/>
<circle cx="105.00" cy="646.20" r="1.75" fill="#000"/>
<path d="M115.65,665.05 V615.32 H126.15 V665.05" stroke="#ff6000" stroke-width="2.1" fill="none"/>
<line x1="120.90" y1="603.30" x2="120.90" y2="623.40" stroke="#ff6000" stroke-width="1.2" stroke-linecap="butt"/>
<line x1="117.90" y1="603.30" x2="123.90" y2="603.30" stroke="#ff6000" stroke-width="1.2" stroke-linecap="butt"/>
<line x1="117.90" y1="623.40" x2="123.90" y2="623.40" stroke="#ff6000" stroke-width="1.2" stroke-linecap="butt"/>
<circle cx="120.70" cy="588.60" r="1.75" fill="#ff6000"/>
<circle cx="117.60" cy="612.90" r="1.75" fill="#ff6000"/>
<circle cx="121.60" cy="613.50" r="1.75" fill="#ff6000"/>
<circle cx="120.70" cy="637.60" r="1.75" fill="#ff6000"/>
<rect x="45.25" y="500.70" width="12.80" height="4.60" stroke="#000" stroke-width="2.1" fill="none"/>
<rect x="45.25" y="519.90" width="12.80" height="4.70" stroke="#ff6000" stroke-width="2.1" fill="none"/>
<text x="68.70" y="506.70" font-size="10.7" font-weight="normal" font-style="normal" text-anchor="start" fill="#000" >Control</text>
<text x="68.70" y="526.00" font-size="10.7" font-weight="normal" font-style="normal" text-anchor="start" fill="#000" >MAM</text>
<text transform="translate(55.90,485.50) scale(1,0.93)" font-size="13.85" font-weight="bold">Lipolysis</text>
<text transform="translate(185.50,595.70) rotate(-90)" x="0" y="0" font-size="12.0" text-anchor="middle" fill="#000">Gene expession (Fold change)</text>
<line x1="215.60" y1="523.30" x2="215.60" y2="668.35" stroke="#000" stroke-width="1.6" stroke-linecap="butt"/>
<line x1="209.70" y1="668.35" x2="215.60" y2="668.35" stroke="#000" stroke-width="1.6" stroke-linecap="butt"/>
<text x="207.60" y="672.17" font-size="10.6" font-weight="bold" font-style="normal" text-anchor="end" fill="#000" >0.0</text>
<line x1="209.70" y1="639.50" x2="215.60" y2="639.50" stroke="#000" stroke-width="1.6" stroke-linecap="butt"/>
<text x="207.60" y="643.32" font-size="10.6" font-weight="bold" font-style="normal" text-anchor="end" fill="#000" >0.5</text>
<line x1="209.70" y1="610.65" x2="215.60" y2="610.65" stroke="#000" stroke-width="1.6" stroke-linecap="butt"/>
<text x="207.60" y="614.47" font-size="10.6" font-weight="bold" font-style="normal" text-anchor="end" fill="#000" >1.0</text>
<line x1="209.70" y1="581.80" x2="215.60" y2="581.80" stroke="#000" stroke-width="1.6" stroke-linecap="butt"/>
<text x="207.60" y="585.62" font-size="10.6" font-weight="bold" font-style="normal" text-anchor="end" fill="#000" >1.5</text>
<line x1="209.70" y1="552.95" x2="215.60" y2="552.95" stroke="#000" stroke-width="1.6" stroke-linecap="butt"/>
<text x="207.60" y="556.77" font-size="10.6" font-weight="bold" font-style="normal" text-anchor="end" fill="#000" >2.0</text>
<line x1="209.70" y1="524.10" x2="215.60" y2="524.10" stroke="#000" stroke-width="1.6" stroke-linecap="butt"/>
<text x="207.60" y="527.92" font-size="10.6" font-weight="bold" font-style="normal" text-anchor="end" fill="#000" >2.5</text>
<line x1="209.70" y1="668.35" x2="266.70" y2="668.35" stroke="#000" stroke-width="1.6" stroke-linecap="butt"/>
<line x1="240.70" y1="668.35" x2="240.70" y2="674.00" stroke="#000" stroke-width="1.6" stroke-linecap="butt"/>
<text x="240.70" y="684.90" font-size="10.8" font-weight="normal" font-style="italic" text-anchor="middle" fill="#000" >Vegfa</text>
<path d="M224.00,668.35 V611.75 H236.00 V668.35" stroke="#000" stroke-width="2.2" fill="none"/>
<line x1="230.00" y1="603.60" x2="230.00" y2="618.40" stroke="#000" stroke-width="1.2" stroke-linecap="butt"/>
<line x1="226.50" y1="603.60" x2="233.50" y2="603.60" stroke="#000" stroke-width="1.2" stroke-linecap="butt"/>
<line x1="226.50" y1="618.40" x2="233.50" y2="618.40" stroke="#000" stroke-width="1.2" stroke-linecap="butt"/>
<circle cx="230.10" cy="590.00" r="1.75" fill="#000"/>
<circle cx="230.10" cy="617.00" r="1.75" fill="#000"/>
<circle cx="230.40" cy="625.40" r="1.75" fill="#000"/>
<path d="M245.50,668.35 V580.01 H257.50 V668.35" stroke="#ff6000" stroke-width="2.2" fill="none"/>
<line x1="251.50" y1="567.80" x2="251.50" y2="589.30" stroke="#ff6000" stroke-width="1.2" stroke-linecap="butt"/>
<line x1="248.00" y1="567.80" x2="255.00" y2="567.80" stroke="#ff6000" stroke-width="1.2" stroke-linecap="butt"/>
<line x1="248.00" y1="589.30" x2="255.00" y2="589.30" stroke="#ff6000" stroke-width="1.2" stroke-linecap="butt"/>
<circle cx="251.50" cy="546.60" r="1.75" fill="#ff6000"/>
<circle cx="248.70" cy="586.10" r="1.75" fill="#ff6000"/>
<circle cx="254.40" cy="586.40" r="1.75" fill="#ff6000"/>
<circle cx="251.60" cy="595.60" r="1.75" fill="#ff6000"/>
<path d="M230.8,583.5 V536.0 H251.6 V543.3" stroke="#000" stroke-width="1.45" fill="none" stroke-linejoin="miter"/>
<path d="M241.20,530.75 L241.20,523.85 M238.21,529.02 L244.19,525.57 M244.19,529.02 L238.21,525.57 " stroke="#000" stroke-width="1.15" stroke-linecap="butt"/>
<circle cx="241.20" cy="527.30" r="1.09" fill="#000"/>
<rect x="220.25" y="499.45" width="13.20" height="4.30" stroke="#000" stroke-width="2.1" fill="none"/>
<rect x="220.25" y="518.65" width="13.20" height="3.90" stroke="#ff6000" stroke-width="2.1" fill="none"/>
<text x="243.10" y="505.50" font-size="10.7" font-weight="normal" font-style="normal" text-anchor="start" fill="#000" >Control</text>
<text x="243.10" y="524.50" font-size="10.7" font-weight="normal" font-style="normal" text-anchor="start" fill="#000" >MAM</text>
<text transform="translate(190.00,488.30) scale(1,0.93)" font-size="13.85" font-weight="bold">Vascularisation</text>
<text transform="translate(324.80,593.70) rotate(-90)" x="0" y="0" font-size="12.0" text-anchor="middle" fill="#000">Gene expession (Fold change)</text>
<line x1="344.60" y1="521.00" x2="344.60" y2="666.05" stroke="#000" stroke-width="1.6" stroke-linecap="butt"/>
<line x1="338.50" y1="666.05" x2="344.60" y2="666.05" stroke="#000" stroke-width="1.6" stroke-linecap="butt"/>
<text x="337.60" y="669.87" font-size="10.6" font-weight="bold" font-style="normal" text-anchor="end" fill="#000" >0</text>
<line x1="338.50" y1="637.20" x2="344.60" y2="637.20" stroke="#000" stroke-width="1.6" stroke-linecap="butt"/>
<text x="337.60" y="641.02" font-size="10.6" font-weight="bold" font-style="normal" text-anchor="end" fill="#000" >1</text>
<line x1="338.50" y1="608.35" x2="344.60" y2="608.35" stroke="#000" stroke-width="1.6" stroke-linecap="butt"/>
<text x="337.60" y="612.17" font-size="10.6" font-weight="bold" font-style="normal" text-anchor="end" fill="#000" >2</text>
<line x1="338.50" y1="579.50" x2="344.60" y2="579.50" stroke="#000" stroke-width="1.6" stroke-linecap="butt"/>
<text x="337.60" y="583.32" font-size="10.6" font-weight="bold" font-style="normal" text-anchor="end" fill="#000" >3</text>
<line x1="338.50" y1="550.65" x2="344.60" y2="550.65" stroke="#000" stroke-width="1.6" stroke-linecap="butt"/>
<text x="337.60" y="554.47" font-size="10.6" font-weight="bold" font-style="normal" text-anchor="end" fill="#000" >4</text>
<line x1="338.50" y1="521.80" x2="344.60" y2="521.80" stroke="#000" stroke-width="1.6" stroke-linecap="butt"/>
<text x="337.60" y="525.62" font-size="10.6" font-weight="bold" font-style="normal" text-anchor="end" fill="#000" >5</text>
<line x1="338.50" y1="666.05" x2="440.30" y2="666.05" stroke="#000" stroke-width="1.6" stroke-linecap="butt"/>
<line x1="366.70" y1="666.05" x2="366.70" y2="672.00" stroke="#000" stroke-width="1.6" stroke-linecap="butt"/>
<line x1="417.80" y1="666.05" x2="417.80" y2="672.00" stroke="#000" stroke-width="1.6" stroke-linecap="butt"/>
<text x="366.70" y="683.10" font-size="10.8" font-weight="normal" font-style="italic" text-anchor="middle" fill="#000" >Adipoq</text>
<text x="417.80" y="683.10" font-size="10.8" font-weight="normal" font-style="italic" text-anchor="middle" fill="#000" >Lep</text>
<path d="M352.45,666.05 V638.25 H362.35 V666.05" stroke="#000" stroke-width="2.1" fill="none"/>
<line x1="357.40" y1="629.40" x2="357.40" y2="645.60" stroke="#000" stroke-width="1.2" stroke-linecap="butt"/>
<line x1="354.40" y1="629.40" x2="360.40" y2="629.40" stroke="#000" stroke-width="1.2" stroke-linecap="butt"/>
<line x1="354.40" y1="645.60" x2="360.40" y2="645.60" stroke="#000" stroke-width="1.2" stroke-linecap="butt"/>
<circle cx="357.30" cy="616.00" r="1.75" fill="#000"/>
<circle cx="357.30" cy="639.00" r="1.75" fill="#000"/>
<circle cx="353.80" cy="649.30" r="1.75" fill="#000"/>
<circle cx="360.40" cy="646.80" r="1.75" fill="#000"/>
<path d="M371.35,666.05 V600.74 H381.25 V666.05" stroke="#ff6000" stroke-width="2.1" fill="none"/>
<line x1="376.30" y1="579.10" x2="376.30" y2="619.60" stroke="#ff6000" stroke-width="1.2" stroke-linecap="butt"/>
<line x1="373.30" y1="579.10" x2="379.30" y2="579.10" stroke="#ff6000" stroke-width="1.2" stroke-linecap="butt"/>
<line x1="373.30" y1="619.60" x2="379.30" y2="619.60" stroke="#ff6000" stroke-width="1.2" stroke-linecap="butt"/>
<circle cx="376.30" cy="544.40" r="1.75" fill="#ff6000"/>
<circle cx="373.20" cy="604.90" r="1.75" fill="#ff6000"/>
<circle cx="379.40" cy="606.30" r="1.75" fill="#ff6000"/>
<circle cx="376.30" cy="642.30" r="1.75" fill="#ff6000"/>
<path d="M403.55,666.05 V638.25 H413.45 V666.05" stroke="#000" stroke-width="2.1" fill="none"/>
<line x1="408.50" y1="630.50" x2="408.50" y2="645.20" stroke="#000" stroke-width="1.2" stroke-linecap="butt"/>
<line x1="405.50" y1="630.50" x2="411.50" y2="630.50" stroke="#000" stroke-width="1.2" stroke-linecap="butt"/>
<line x1="405.50" y1="645.20" x2="411.50" y2="645.20" stroke="#000" stroke-width="1.2" stroke-linecap="butt"/>
<circle cx="408.40" cy="622.30" r="1.75" fill="#000"/>
<circle cx="408.40" cy="631.50" r="1.75" fill="#000"/>
<circle cx="408.40" cy="644.20" r="1.75" fill="#000"/>
<circle cx="408.40" cy="651.30" r="1.75" fill="#000"/>
<path d="M422.45,666.05 V609.98 H432.35 V666.05" stroke="#ff6000" stroke-width="2.1" fill="none"/>
<line x1="427.40" y1="600.20" x2="427.40" y2="616.60" stroke="#ff6000" stroke-width="1.2" stroke-linecap="butt"/>
<line x1="424.40" y1="600.20" x2="430.40" y2="600.20" stroke="#ff6000" stroke-width="1.2" stroke-linecap="butt"/>
<line x1="424.40" y1="616.60" x2="430.40" y2="616.60" stroke="#ff6000" stroke-width="1.2" stroke-linecap="butt"/>
<circle cx="424.70" cy="597.60" r="1.75" fill="#ff6000"/>
<circle cx="430.50" cy="594.50" r="1.75" fill="#ff6000"/>
<circle cx="427.40" cy="613.90" r="1.75" fill="#ff6000"/>
<circle cx="427.40" cy="628.80" r="1.75" fill="#ff6000"/>
<path d="M407.1,618.8 V563.5 H427.7 V572.9" stroke="#000" stroke-width="1.45" fill="none" stroke-linejoin="miter"/>
<path d="M417.80,559.75 L417.80,552.85 M414.81,558.02 L420.79,554.57 M420.79,558.02 L414.81,554.57 " stroke="#000" stroke-width="1.15" stroke-linecap="butt"/>
<circle cx="417.80" cy="556.30" r="1.09" fill="#000"/>
<rect x="353.55" y="498.40" width="13.00" height="4.30" stroke="#000" stroke-width="2.1" fill="none"/>
<rect x="353.55" y="517.70" width="13.00" height="4.40" stroke="#ff6000" stroke-width="2.1" fill="none"/>
<text x="376.80" y="504.00" font-size="10.7" font-weight="normal" font-style="normal" text-anchor="start" fill="#000" >Control</text>
<text x="376.80" y="523.00" font-size="10.7" font-weight="normal" font-style="normal" text-anchor="start" fill="#000" >MAM</text>
<text transform="translate(320.90,486.60) scale(1,0.93)" font-size="13.85" font-weight="bold">Adipokine production</text>
<text transform="translate(489.80,594.50) rotate(-90)" x="0" y="0" font-size="12.0" text-anchor="middle" fill="#000">Gene expession (Fold change)</text>
<line x1="519.80" y1="521.00" x2="519.80" y2="666.05" stroke="#000" stroke-width="1.6" stroke-linecap="butt"/>
<line x1="513.30" y1="666.05" x2="519.80" y2="666.05" stroke="#000" stroke-width="1.6" stroke-linecap="butt"/>
<text x="512.20" y="669.87" font-size="10.6" font-weight="bold" font-style="normal" text-anchor="end" fill="#000" >0.0</text>
<line x1="513.30" y1="637.20" x2="519.80" y2="637.20" stroke="#000" stroke-width="1.6" stroke-linecap="butt"/>
<text x="512.20" y="641.02" font-size="10.6" font-weight="bold" font-style="normal" text-anchor="end" fill="#000" >0.5</text>
<line x1="513.30" y1="608.35" x2="519.80" y2="608.35" stroke="#000" stroke-width="1.6" stroke-linecap="butt"/>
<text x="512.20" y="612.17" font-size="10.6" font-weight="bold" font-style="normal" text-anchor="end" fill="#000" >1.0</text>
<line x1="513.30" y1="579.50" x2="519.80" y2="579.50" stroke="#000" stroke-width="1.6" stroke-linecap="butt"/>
<text x="512.20" y="583.32" font-size="10.6" font-weight="bold" font-style="normal" text-anchor="end" fill="#000" >1.5</text>
<line x1="513.30" y1="550.65" x2="519.80" y2="550.65" stroke="#000" stroke-width="1.6" stroke-linecap="butt"/>
<text x="512.20" y="554.47" font-size="10.6" font-weight="bold" font-style="normal" text-anchor="end" fill="#000" >2.0</text>
<line x1="513.30" y1="521.80" x2="519.80" y2="521.80" stroke="#000" stroke-width="1.6" stroke-linecap="butt"/>
<text x="512.20" y="525.62" font-size="10.6" font-weight="bold" font-style="normal" text-anchor="end" fill="#000" >2.5</text>
<line x1="513.30" y1="666.05" x2="685.00" y2="666.05" stroke="#000" stroke-width="1.6" stroke-linecap="butt"/>
<line x1="538.60" y1="666.05" x2="538.60" y2="672.00" stroke="#000" stroke-width="1.6" stroke-linecap="butt"/>
<line x1="580.80" y1="666.05" x2="580.80" y2="672.00" stroke="#000" stroke-width="1.6" stroke-linecap="butt"/>
<line x1="623.00" y1="666.05" x2="623.00" y2="672.00" stroke="#000" stroke-width="1.6" stroke-linecap="butt"/>
<line x1="665.40" y1="666.05" x2="665.40" y2="672.00" stroke="#000" stroke-width="1.6" stroke-linecap="butt"/>
<text x="538.60" y="683.60" font-size="10.8" font-weight="normal" font-style="italic" text-anchor="middle" fill="#000" >Cycs</text>
<text x="580.80" y="683.60" font-size="10.8" font-weight="normal" font-style="italic" text-anchor="middle" fill="#000" >Ppargc1a</text>
<text x="623.00" y="683.60" font-size="10.8" font-weight="normal" font-style="italic" text-anchor="middle" fill="#000" >Ppara</text>
<text x="665.40" y="683.60" font-size="10.8" font-weight="normal" font-style="italic" text-anchor="middle" fill="#000" >Pparg</text>
<path d="M526.60,666.05 V609.35 H535.20 V666.05" stroke="#000" stroke-width="2.0" fill="none"/>
<line x1="530.90" y1="601.50" x2="530.90" y2="616.00" stroke="#000" stroke-width="1.2" stroke-linecap="butt"/>
<line x1="528.10" y1="601.50" x2="533.70" y2="601.50" stroke="#000" stroke-width="1.2" stroke-linecap="butt"/>
<line x1="528.10" y1="616.00" x2="533.70" y2="616.00" stroke="#000" stroke-width="1.2" stroke-linecap="butt"/>
<circle cx="526.70" cy="599.50" r="1.75" fill="#000"/>
<circle cx="534.60" cy="597.80" r="1.75" fill="#000"/>
<circle cx="530.60" cy="611.00" r="1.75" fill="#000"/>
<circle cx="530.60" cy="627.00" r="1.75" fill="#000"/>
<path d="M542.20,666.05 V590.89 H550.80 V666.05" stroke="#ff6000" stroke-width="2.0" fill="none"/>
<line x1="546.50" y1="585.30" x2="546.50" y2="593.90" stroke="#ff6000" stroke-width="1.2" stroke-linecap="butt"/>
<line x1="543.70" y1="585.30" x2="549.30" y2="585.30" stroke="#ff6000" stroke-width="1.2" stroke-linecap="butt"/>
<line x1="543.70" y1="593.90" x2="549.30" y2="593.90" stroke="#ff6000" stroke-width="1.2" stroke-linecap="butt"/>
<circle cx="546.50" cy="577.80" r="1.75" fill="#ff6000"/>
<circle cx="546.50" cy="588.50" r="1.75" fill="#ff6000"/>
<circle cx="546.50" cy="591.20" r="1.75" fill="#ff6000"/>
<circle cx="546.50" cy="598.90" r="1.75" fill="#ff6000"/>
<path d="M568.80,666.05 V609.35 H577.40 V666.05" stroke="#000" stroke-width="2.0" fill="none"/>
<line x1="573.10" y1="603.00" x2="573.10" y2="615.00" stroke="#000" stroke-width="1.2" stroke-linecap="butt"/>
<line x1="570.30" y1="603.00" x2="575.90" y2="603.00" stroke="#000" stroke-width="1.2" stroke-linecap="butt"/>
<line x1="570.30" y1="615.00" x2="575.90" y2="615.00" stroke="#000" stroke-width="1.2" stroke-linecap="butt"/>
<circle cx="573.10" cy="593.20" r="1.75" fill="#000"/>
<circle cx="573.10" cy="609.00" r="1.75" fill="#000"/>
<circle cx="573.10" cy="614.20" r="1.75" fill="#000"/>
<circle cx="573.10" cy="617.50" r="1.75" fill="#000"/>
<path d="M584.40,666.05 V582.81 H593.00 V666.05" stroke="#ff6000" stroke-width="2.0" fill="none"/>
<line x1="588.70" y1="574.80" x2="588.70" y2="585.30" stroke="#ff6000" stroke-width="1.2" stroke-linecap="butt"/>
<line x1="585.90" y1="574.80" x2="591.50" y2="574.80" stroke="#ff6000" stroke-width="1.2" stroke-linecap="butt"/>
<line x1="585.90" y1="585.30" x2="591.50" y2="585.30" stroke="#ff6000" stroke-width="1.2" stroke-linecap="butt"/>
<circle cx="588.80" cy="564.00" r="1.75" fill="#ff6000"/>
<circle cx="588.80" cy="579.40" r="1.75" fill="#ff6000"/>
<circle cx="588.80" cy="587.30" r="1.75" fill="#ff6000"/>
<circle cx="588.80" cy="593.90" r="1.75" fill="#ff6000"/>
<path d="M611.00,666.05 V609.35 H619.60 V666.05" stroke="#000" stroke-width="2.0" fill="none"/>
<line x1="615.30" y1="602.00" x2="615.30" y2="616.00" stroke="#000" stroke-width="1.2" stroke-linecap="butt"/>
<line x1="612.50" y1="602.00" x2="618.10" y2="602.00" stroke="#000" stroke-width="1.2" stroke-linecap="butt"/>
<line x1="612.50" y1="616.00" x2="618.10" y2="616.00" stroke="#000" stroke-width="1.2" stroke-linecap="butt"/>
<circle cx="614.80" cy="594.70" r="1.75" fill="#000"/>
<circle cx="614.80" cy="602.50" r="1.75" fill="#000"/>
<circle cx="614.80" cy="616.40" r="1.75" fill="#000"/>
<circle cx="614.80" cy="623.30" r="1.75" fill="#000"/>
<path d="M627.20,666.05 V556.27 H635.80 V666.05" stroke="#ff6000" stroke-width="2.0" fill="none"/>
<line x1="631.50" y1="543.50" x2="631.50" y2="565.20" stroke="#ff6000" stroke-width="1.2" stroke-linecap="butt"/>
<line x1="628.70" y1="543.50" x2="634.30" y2="543.50" stroke="#ff6000" stroke-width="1.2" stroke-linecap="butt"/>
<line x1="628.70" y1="565.20" x2="634.30" y2="565.20" stroke="#ff6000" stroke-width="1.2" stroke-linecap="butt"/>
<circle cx="631.30" cy="533.90" r="1.75" fill="#ff6000"/>
<circle cx="631.30" cy="543.00" r="1.75" fill="#ff6000"/>
<circle cx="631.30" cy="546.50" r="1.75" fill="#ff6000"/>
<circle cx="631.30" cy="584.90" r="1.75" fill="#ff6000"/>
<path d="M653.10,666.05 V609.35 H661.70 V666.05" stroke="#000" stroke-width="2.0" fill="none"/>
<line x1="657.40" y1="602.00" x2="657.40" y2="616.00" stroke="#000" stroke-width="1.2" stroke-linecap="butt"/>
<line x1="654.60" y1="602.00" x2="660.20" y2="602.00" stroke="#000" stroke-width="1.2" stroke-linecap="butt"/>
<line x1="654.60" y1="616.00" x2="660.20" y2="616.00" stroke="#000" stroke-width="1.2" stroke-linecap="butt"/>
<circle cx="657.80" cy="592.20" r="1.75" fill="#000"/>
<circle cx="657.80" cy="611.60" r="1.75" fill="#000"/>
<circle cx="654.50" cy="614.00" r="1.75" fill="#000"/>
<circle cx="657.80" cy="619.10" r="1.75" fill="#000"/>
<path d="M669.30,666.05 V580.50 H677.90 V666.05" stroke="#ff6000" stroke-width="2.0" fill="none"/>
<line x1="673.60" y1="569.80" x2="673.60" y2="588.40" stroke="#ff6000" stroke-width="1.2" stroke-linecap="butt"/>
<line x1="670.80" y1="569.80" x2="676.40" y2="569.80" stroke="#ff6000" stroke-width="1.2" stroke-linecap="butt"/>
<line x1="670.80" y1="588.40" x2="676.40" y2="588.40" stroke="#ff6000" stroke-width="1.2" stroke-linecap="butt"/>
<circle cx="673.40" cy="562.20" r="1.75" fill="#ff6000"/>
<circle cx="673.40" cy="570.40" r="1.75" fill="#ff6000"/>
<circle cx="673.40" cy="578.30" r="1.75" fill="#ff6000"/>
<circle cx="673.40" cy="605.30" r="1.75" fill="#ff6000"/>
<path d="M529.3,595.2 V557.3 H546.5 V570.5" stroke="#000" stroke-width="1.45" fill="none" stroke-linejoin="miter"/>
<path d="M537.60,553.05 L537.60,546.15 M534.61,551.33 L540.59,547.88 M540.59,551.33 L534.61,547.88 " stroke="#000" stroke-width="1.15" stroke-linecap="butt"/>
<circle cx="537.60" cy="549.60" r="1.09" fill="#000"/>
<path d="M574.6,581.4 V544 H592.4 V556.4" stroke="#000" stroke-width="1.45" fill="none" stroke-linejoin="miter"/>
<path d="M583.10,539.25 L583.10,532.35 M580.11,537.52 L586.09,534.07 M586.09,537.52 L580.11,534.07 " stroke="#000" stroke-width="1.15" stroke-linecap="butt"/>
<circle cx="583.10" cy="535.80" r="1.09" fill="#000"/>
<path d="M613,588.8 V523.1 H630.7 V530.4" stroke="#000" stroke-width="1.45" fill="none" stroke-linejoin="miter"/>
<path d="M618.05,518.75 L618.05,511.85 M615.06,517.02 L621.04,513.57 M621.04,517.02 L615.06,513.57 " stroke="#000" stroke-width="1.15" stroke-linecap="butt"/>
<circle cx="618.05" cy="515.30" r="1.09" fill="#000"/>
<path d="M625.95,518.75 L625.95,511.85 M622.96,517.02 L628.94,513.57 M628.94,517.02 L622.96,513.57 " stroke="#000" stroke-width="1.15" stroke-linecap="butt"/>
<circle cx="625.95" cy="515.30" r="1.09" fill="#000"/>
<path d="M657.7,581.6 V547.2 H673.2 V553.4" stroke="#000" stroke-width="1.45" fill="none" stroke-linejoin="miter"/>
<path d="M665.60,542.05 L665.60,535.15 M662.61,540.33 L668.59,536.88 M668.59,540.33 L662.61,536.88 " stroke="#000" stroke-width="1.15" stroke-linecap="butt"/>
<circle cx="665.60" cy="538.60" r="1.09" fill="#000"/>
<rect x="527.15" y="496.20" width="13.50" height="4.40" stroke="#000" stroke-width="2.1" fill="none"/>
<rect x="527.15" y="515.10" width="13.50" height="4.70" stroke="#ff6000" stroke-width="2.1" fill="none"/>
<text x="550.70" y="501.90" font-size="10.7" font-weight="normal" font-style="normal" text-anchor="start" fill="#000" >Control</text>
<text x="550.70" y="520.80" font-size="10.7" font-weight="normal" font-style="normal" text-anchor="start" fill="#000" >MAM</text>
<text transform="translate(526.60,486.60) scale(1,0.93)" font-size="13.85" font-weight="bold">Mitochondrial function</text>
<text transform="translate(177.60,827.30) rotate(-90)" x="0" y="0" font-size="11.9" text-anchor="middle" fill="#000">Gene expession (Fold change)</text>
<line x1="208.10" y1="754.60" x2="208.10" y2="899.65" stroke="#000" stroke-width="1.6" stroke-linecap="butt"/>
<line x1="202.00" y1="899.65" x2="208.10" y2="899.65" stroke="#000" stroke-width="1.6" stroke-linecap="butt"/>
<text x="200.90" y="903.47" font-size="10.6" font-weight="bold" font-style="normal" text-anchor="end" fill="#000" >0.0</text>
<line x1="202.00" y1="870.80" x2="208.10" y2="870.80" stroke="#000" stroke-width="1.6" stroke-linecap="butt"/>
<text x="200.90" y="874.62" font-size="10.6" font-weight="bold" font-style="normal" text-anchor="end" fill="#000" >0.5</text>
<line x1="202.00" y1="841.95" x2="208.10" y2="841.95" stroke="#000" stroke-width="1.6" stroke-linecap="butt"/>
<text x="200.90" y="845.77" font-size="10.6" font-weight="bold" font-style="normal" text-anchor="end" fill="#000" >1.0</text>
<line x1="202.00" y1="813.10" x2="208.10" y2="813.10" stroke="#000" stroke-width="1.6" stroke-linecap="butt"/>
<text x="200.90" y="816.92" font-size="10.6" font-weight="bold" font-style="normal" text-anchor="end" fill="#000" >1.5</text>
<line x1="202.00" y1="784.25" x2="208.10" y2="784.25" stroke="#000" stroke-width="1.6" stroke-linecap="butt"/>
<text x="200.90" y="788.07" font-size="10.6" font-weight="bold" font-style="normal" text-anchor="end" fill="#000" >2.0</text>
<line x1="202.00" y1="755.40" x2="208.10" y2="755.40" stroke="#000" stroke-width="1.6" stroke-linecap="butt"/>
<text x="200.90" y="759.22" font-size="10.6" font-weight="bold" font-style="normal" text-anchor="end" fill="#000" >2.5</text>
<line x1="202.00" y1="899.65" x2="304.40" y2="899.65" stroke="#000" stroke-width="1.6" stroke-linecap="butt"/>
<line x1="229.60" y1="899.65" x2="229.60" y2="905.50" stroke="#000" stroke-width="1.6" stroke-linecap="butt"/>
<line x1="281.50" y1="899.65" x2="281.50" y2="905.50" stroke="#000" stroke-width="1.6" stroke-linecap="butt"/>
<text x="230.00" y="916.40" font-size="10.8" font-weight="normal" font-style="italic" text-anchor="middle" fill="#000" >Cidea</text>
<text x="281.90" y="916.40" font-size="10.8" font-weight="normal" font-style="italic" text-anchor="middle" fill="#000" >Plin1</text>
<path d="M215.90,899.65 V843.05 H226.10 V899.65" stroke="#000" stroke-width="2.2" fill="none"/>
<line x1="221.00" y1="838.30" x2="221.00" y2="845.70" stroke="#000" stroke-width="1.2" stroke-linecap="butt"/>
<line x1="218.00" y1="838.30" x2="224.00" y2="838.30" stroke="#000" stroke-width="1.2" stroke-linecap="butt"/>
<line x1="218.00" y1="845.70" x2="224.00" y2="845.70" stroke="#000" stroke-width="1.2" stroke-linecap="butt"/>
<circle cx="221.20" cy="835.20" r="1.75" fill="#000"/>
<circle cx="218.40" cy="842.20" r="1.75" fill="#000"/>
<circle cx="223.50" cy="842.20" r="1.75" fill="#000"/>
<circle cx="221.20" cy="849.90" r="1.75" fill="#000"/>
<path d="M234.50,899.65 V796.31 H244.70 V899.65" stroke="#ff6000" stroke-width="2.2" fill="none"/>
<line x1="239.60" y1="785.30" x2="239.60" y2="805.00" stroke="#ff6000" stroke-width="1.2" stroke-linecap="butt"/>
<line x1="236.60" y1="785.30" x2="242.60" y2="785.30" stroke="#ff6000" stroke-width="1.2" stroke-linecap="butt"/>
<line x1="236.60" y1="805.00" x2="242.60" y2="805.00" stroke="#ff6000" stroke-width="1.2" stroke-linecap="butt"/>
<circle cx="240.10" cy="771.60" r="1.75" fill="#ff6000"/>
<circle cx="240.10" cy="785.80" r="1.75" fill="#ff6000"/>
<circle cx="240.10" cy="807.40" r="1.75" fill="#ff6000"/>
<circle cx="240.10" cy="815.50" r="1.75" fill="#ff6000"/>
<path d="M266.70,899.65 V843.05 H276.90 V899.65" stroke="#000" stroke-width="2.2" fill="none"/>
<line x1="271.80" y1="829.80" x2="271.80" y2="854.60" stroke="#000" stroke-width="1.2" stroke-linecap="butt"/>
<line x1="268.80" y1="829.80" x2="274.80" y2="829.80" stroke="#000" stroke-width="1.2" stroke-linecap="butt"/>
<line x1="268.80" y1="854.60" x2="274.80" y2="854.60" stroke="#000" stroke-width="1.2" stroke-linecap="butt"/>
<circle cx="272.20" cy="808.60" r="1.75" fill="#000"/>
<circle cx="272.60" cy="839.40" r="1.75" fill="#000"/>
<circle cx="272.60" cy="855.00" r="1.75" fill="#000"/>
<circle cx="271.70" cy="863.70" r="1.75" fill="#000"/>
<path d="M285.80,899.65 V821.70 H296.00 V899.65" stroke="#ff6000" stroke-width="2.2" fill="none"/>
<line x1="290.90" y1="811.10" x2="290.90" y2="828.00" stroke="#ff6000" stroke-width="1.2" stroke-linecap="butt"/>
<line x1="287.90" y1="811.10" x2="293.90" y2="811.10" stroke="#ff6000" stroke-width="1.2" stroke-linecap="butt"/>
<line x1="287.90" y1="828.00" x2="293.90" y2="828.00" stroke="#ff6000" stroke-width="1.2" stroke-linecap="butt"/>
<circle cx="290.90" cy="794.60" r="1.75" fill="#ff6000"/>
<circle cx="290.90" cy="823.50" r="1.75" fill="#ff6000"/>
<circle cx="290.90" cy="828.00" r="1.75" fill="#ff6000"/>
<circle cx="290.90" cy="833.50" r="1.75" fill="#ff6000"/>
<path d="M220.8,827.5 V755.6 H240.3 V765.7" stroke="#000" stroke-width="1.45" fill="none" stroke-linejoin="miter"/>
<path d="M226.00,748.75 L226.00,741.85 M223.01,747.02 L228.99,743.57 M228.99,747.02 L223.01,743.57 " stroke="#000" stroke-width="1.15" stroke-linecap="butt"/>
<circle cx="226.00" cy="745.30" r="1.09" fill="#000"/>
<path d="M235.20,748.75 L235.20,741.85 M232.21,747.02 L238.19,743.57 M238.19,747.02 L232.21,743.57 " stroke="#000" stroke-width="1.15" stroke-linecap="butt"/>
<circle cx="235.20" cy="745.30" r="1.09" fill="#000"/>
<rect x="254.65" y="731.60" width="13.00" height="3.50" stroke="#000" stroke-width="2.1" fill="none"/>
<rect x="254.65" y="750.00" width="13.00" height="4.60" stroke="#ff6000" stroke-width="2.1" fill="none"/>
<text x="277.20" y="736.80" font-size="10.7" font-weight="normal" font-style="normal" text-anchor="start" fill="#000" >Control</text>
<text x="277.20" y="755.50" font-size="10.7" font-weight="normal" font-style="normal" text-anchor="start" fill="#000" >MAM</text>
<text transform="translate(212.10,719.60) scale(1,0.93)" font-size="13.85" font-weight="bold">Lipid storage</text>
<text transform="translate(361.50,825.50) rotate(-90)" x="0" y="0" font-size="12.0" text-anchor="middle" fill="#000">Gene expession (Fold change)</text>
<line x1="391.10" y1="752.60" x2="391.10" y2="897.65" stroke="#000" stroke-width="1.6" stroke-linecap="butt"/>
<line x1="385.50" y1="897.65" x2="391.10" y2="897.65" stroke="#000" stroke-width="1.6" stroke-linecap="butt"/>
<text x="383.90" y="901.47" font-size="10.6" font-weight="bold" font-style="normal" text-anchor="end" fill="#000" >0.0</text>
<line x1="385.50" y1="861.59" x2="391.10" y2="861.59" stroke="#000" stroke-width="1.6" stroke-linecap="butt"/>
<text x="383.90" y="865.40" font-size="10.6" font-weight="bold" font-style="normal" text-anchor="end" fill="#000" >0.5</text>
<line x1="385.50" y1="825.52" x2="391.10" y2="825.52" stroke="#000" stroke-width="1.6" stroke-linecap="butt"/>
<text x="383.90" y="829.34" font-size="10.6" font-weight="bold" font-style="normal" text-anchor="end" fill="#000" >1.0</text>
<line x1="385.50" y1="789.46" x2="391.10" y2="789.46" stroke="#000" stroke-width="1.6" stroke-linecap="butt"/>
<text x="383.90" y="793.28" font-size="10.6" font-weight="bold" font-style="normal" text-anchor="end" fill="#000" >1.5</text>
<line x1="385.50" y1="753.40" x2="391.10" y2="753.40" stroke="#000" stroke-width="1.6" stroke-linecap="butt"/>
<text x="383.90" y="757.22" font-size="10.6" font-weight="bold" font-style="normal" text-anchor="end" fill="#000" >2.0</text>
<line x1="385.50" y1="897.65" x2="487.60" y2="897.65" stroke="#000" stroke-width="1.6" stroke-linecap="butt"/>
<line x1="405.40" y1="897.65" x2="405.40" y2="904.20" stroke="#000" stroke-width="1.6" stroke-linecap="butt"/>
<line x1="438.80" y1="897.65" x2="438.80" y2="904.20" stroke="#000" stroke-width="1.6" stroke-linecap="butt"/>
<line x1="472.70" y1="897.65" x2="472.70" y2="904.20" stroke="#000" stroke-width="1.6" stroke-linecap="butt"/>
<text x="405.40" y="915.10" font-size="10.8" font-weight="normal" font-style="italic" text-anchor="middle" fill="#000" >Acly</text>
<text x="438.80" y="915.10" font-size="10.8" font-weight="normal" font-style="italic" text-anchor="middle" fill="#000" >Slc25a1</text>
<text x="472.70" y="915.10" font-size="10.8" font-weight="normal" font-style="italic" text-anchor="middle" fill="#000" >Acaca</text>
<path d="M396.45,897.65 V826.57 H402.75 V897.65" stroke="#000" stroke-width="2.1" fill="none"/>
<line x1="399.60" y1="819.50" x2="399.60" y2="832.00" stroke="#000" stroke-width="1.1" stroke-linecap="butt"/>
<line x1="397.60" y1="819.50" x2="401.60" y2="819.50" stroke="#000" stroke-width="1.1" stroke-linecap="butt"/>
<line x1="397.60" y1="832.00" x2="401.60" y2="832.00" stroke="#000" stroke-width="1.1" stroke-linecap="butt"/>
<circle cx="399.50" cy="819.10" r="1.65" fill="#000"/>
<circle cx="399.50" cy="823.10" r="1.65" fill="#000"/>
<circle cx="399.50" cy="833.10" r="1.65" fill="#000"/>
<path d="M408.65,897.65 V825.85 H414.95 V897.65" stroke="#ff6000" stroke-width="2.1" fill="none"/>
<line x1="411.80" y1="819.40" x2="411.80" y2="832.00" stroke="#ff6000" stroke-width="1.1" stroke-linecap="butt"/>
<line x1="409.80" y1="819.40" x2="413.80" y2="819.40" stroke="#ff6000" stroke-width="1.1" stroke-linecap="butt"/>
<line x1="409.80" y1="832.00" x2="413.80" y2="832.00" stroke="#ff6000" stroke-width="1.1" stroke-linecap="butt"/>
<circle cx="411.80" cy="810.30" r="1.65" fill="#ff6000"/>
<circle cx="411.80" cy="822.60" r="1.65" fill="#ff6000"/>
<circle cx="411.80" cy="828.30" r="1.65" fill="#ff6000"/>
<circle cx="411.80" cy="835.50" r="1.65" fill="#ff6000"/>
<path d="M429.55,897.65 V826.57 H435.85 V897.65" stroke="#000" stroke-width="2.1" fill="none"/>
<line x1="432.70" y1="820.70" x2="432.70" y2="831.00" stroke="#000" stroke-width="1.1" stroke-linecap="butt"/>
<line x1="430.70" y1="820.70" x2="434.70" y2="820.70" stroke="#000" stroke-width="1.1" stroke-linecap="butt"/>
<line x1="430.70" y1="831.00" x2="434.70" y2="831.00" stroke="#000" stroke-width="1.1" stroke-linecap="butt"/>
<circle cx="432.70" cy="811.40" r="1.65" fill="#000"/>
<circle cx="432.70" cy="820.70" r="1.65" fill="#000"/>
<circle cx="430.50" cy="834.70" r="1.65" fill="#000"/>
<circle cx="434.90" cy="834.70" r="1.65" fill="#000"/>
<path d="M442.25,897.65 V809.63 H448.55 V897.65" stroke="#ff6000" stroke-width="2.1" fill="none"/>
<line x1="445.40" y1="806.10" x2="445.40" y2="814.00" stroke="#ff6000" stroke-width="1.1" stroke-linecap="butt"/>
<line x1="443.40" y1="806.10" x2="447.40" y2="806.10" stroke="#ff6000" stroke-width="1.1" stroke-linecap="butt"/>
<line x1="443.40" y1="814.00" x2="447.40" y2="814.00" stroke="#ff6000" stroke-width="1.1" stroke-linecap="butt"/>
<circle cx="445.40" cy="802.10" r="1.65" fill="#ff6000"/>
<circle cx="445.40" cy="810.50" r="1.65" fill="#ff6000"/>
<circle cx="445.40" cy="814.80" r="1.65" fill="#ff6000"/>
<path d="M463.25,897.65 V826.57 H469.55 V897.65" stroke="#000" stroke-width="2.1" fill="none"/>
<line x1="466.40" y1="820.00" x2="466.40" y2="832.00" stroke="#000" stroke-width="1.1" stroke-linecap="butt"/>
<line x1="464.40" y1="820.00" x2="468.40" y2="820.00" stroke="#000" stroke-width="1.1" stroke-linecap="butt"/>
<line x1="464.40" y1="832.00" x2="468.40" y2="832.00" stroke="#000" stroke-width="1.1" stroke-linecap="butt"/>
<circle cx="466.40" cy="813.50" r="1.65" fill="#000"/>
<circle cx="466.40" cy="822.00" r="1.65" fill="#000"/>
<circle cx="466.40" cy="833.00" r="1.65" fill="#000"/>
<circle cx="466.40" cy="837.10" r="1.65" fill="#000"/>
<path d="M475.85,897.65 V815.76 H482.15 V897.65" stroke="#ff6000" stroke-width="2.1" fill="none"/>
<line x1="479.00" y1="798.10" x2="479.00" y2="830.70" stroke="#ff6000" stroke-width="1.1" stroke-linecap="butt"/>
<line x1="477.00" y1="798.10" x2="481.00" y2="798.10" stroke="#ff6000" stroke-width="1.1" stroke-linecap="butt"/>
<line x1="477.00" y1="830.70" x2="481.00" y2="830.70" stroke="#ff6000" stroke-width="1.1" stroke-linecap="butt"/>
<circle cx="478.90" cy="764.30" r="1.65" fill="#ff6000"/>
<circle cx="478.90" cy="828.30" r="1.65" fill="#ff6000"/>
<circle cx="476.50" cy="834.70" r="1.65" fill="#ff6000"/>
<path d="M431.6,806.6 V787.3 H446 V797.7" stroke="#000" stroke-width="1.45" fill="none" stroke-linejoin="miter"/>
<path d="M439.30,780.15 L439.30,773.25 M436.31,778.43 L442.29,774.98 M442.29,778.43 L436.31,774.98 " stroke="#000" stroke-width="1.15" stroke-linecap="butt"/>
<circle cx="439.30" cy="776.70" r="1.09" fill="#000"/>
<rect x="398.45" y="729.70" width="13.20" height="4.30" stroke="#000" stroke-width="2.1" fill="none"/>
<rect x="398.45" y="749.20" width="13.20" height="4.20" stroke="#ff6000" stroke-width="2.1" fill="none"/>
<text x="421.50" y="735.80" font-size="10.7" font-weight="normal" font-style="normal" text-anchor="start" fill="#000" >Control</text>
<text x="421.50" y="755.20" font-size="10.7" font-weight="normal" font-style="normal" text-anchor="start" fill="#000" >MAM</text>
<text transform="translate(398.10,718.60) scale(1,0.93)" font-size="13.85" font-weight="bold">Lipogenesis</text>
<path d="M405.9,374 C405.9,395 406.2,410 407.1,422 C408.2,437 411.4,448 415.6,459.2 L417.0,458.6 C413.6,447 411.3,436 410.5,422 C409.8,410 409.6,395 409.4,374 Z" fill="#c29089" stroke="#b07c76" stroke-width="0.4"/>
<path d="M386.9,372.4 L380.0,373.6 L374.5,375.0 L371.0,378.3 L368.0,382.2 L369.4,382.9 L374.5,381.4 L379.6,380.0 L385.0,377.8 L391.1,376.0 L391.3,372.2 Z" fill="#d29b94"/>
<path d="M429.5,372.4 L436.4,373.6 L441.9,375.0 L445.4,378.3 L448.4,382.2 L447.0,382.9 L441.9,381.4 L436.8,380.0 L431.4,377.8 L425.3,376.0 L425.1,372.2 Z" fill="#d29b94"/>
<path d="M375.6,294.4 L373.0,292.6 L370.2,291.0 L367.8,288.6 L368.6,288.0 L370.6,289.2 L368.0,285.6 L368.9,285.0 L371.2,287.6 L370.4,283.9 L371.4,283.7 L372.6,287.2 L373.0,284.6 L374.0,284.9 L373.9,288.4 L375.6,290.4 L376.8,293.0 Z" fill="#d29b94"/>
<path d="M440.8,294.4 L443.4,292.6 L446.2,291.0 L448.6,288.6 L447.8,288.0 L445.8,289.2 L448.4,285.6 L447.5,285.0 L445.2,287.6 L446.0,283.9 L445.0,283.7 L443.8,287.2 L443.4,284.6 L442.4,284.9 L442.5,288.4 L440.8,290.4 L439.6,293.0 Z" fill="#d29b94"/>
<circle cx="391.90" cy="280.90" r="3.8" fill="#d29b94"/>
<circle cx="391.90" cy="280.9" r="2.3" fill="#c48b85"/>
<circle cx="424.50" cy="280.90" r="3.8" fill="#d29b94"/>
<circle cx="424.50" cy="280.9" r="2.3" fill="#c48b85"/>
<path d="M408.2,260.5 L410.0,261.5 L411.3,262.6 L412.6,264.0 L413.2,266.0 L413.9,269.3 L415.5,271.5 L417.2,273.2 L420.0,276.9 L421.5,280.5 L423.0,284.2 L423.7,287.8 L423.2,291.3 L422.4,293.2 L426.0,296.0 L430.2,297.4 L436.0,295.2 L441.6,292.8 L442.6,295.2 L437.0,302.0 L431.7,308.5 L426.6,312.1 L426.2,316.5 L426.6,323.8 L428.6,330.0 L431.6,337.0 L435.0,343.6 L435.9,347.3 L436.1,354.6 L434.8,358.2 L432.6,361.9 L430.2,364.6 L429.7,372.6 L425.4,372.6 L425.4,365.2 L422.2,366.3 L418.6,369.2 L414.9,372.8 L411.3,375.0 L408.2,375.9 L405.1,375.0 L401.5,372.8 L397.8,369.2 L394.2,366.3 L391.0,365.2 L391.0,372.6 L386.7,372.6 L386.2,364.6 L383.8,361.9 L381.6,358.2 L380.3,354.6 L380.5,347.3 L381.4,343.6 L384.8,337.0 L387.8,330.0 L389.8,323.8 L390.2,316.5 L389.8,312.1 L384.7,308.5 L379.4,302.0 L373.8,295.2 L374.8,292.8 L380.4,295.2 L386.2,297.4 L390.4,296.0 L394.0,293.2 L393.2,291.3 L392.7,287.8 L393.4,284.2 L394.9,280.5 L396.4,276.9 L399.2,273.2 L400.9,271.5 L402.5,269.3 L403.2,266.0 L403.8,264.0 L405.1,262.6 L406.4,261.5 Z" fill="#4b4643" stroke="#4b4643" stroke-width="0.5" stroke-linejoin="round"/>
<path d="M403.6,266 C405,268.5 406.5,270 408.2,270.5 C409.9,270 411.4,268.5 412.8,266 L413.9,269.3 C412,272 410,273 408.2,273.2 C406.4,273 404.4,272 402.5,269.3 Z" fill="#3f3a37" opacity="0.7"/>
<path d="M393.2,291.0 C398,288.5 404,286.8 408.2,285.6 C412.4,286.8 418.4,288.5 423.2,291.0" stroke="#39342f" stroke-width="1.3" fill="none"/>
<path d="M383.5,343 C387,338 392,337 395,341 C398,347 396,356 391.2,364.8" stroke="#403b38" stroke-width="0.7" fill="none"/>
<path d="M432.9,343 C429.4,338 424.4,337 421.4,341 C418.4,347 420.4,356 425.2,364.8" stroke="#403b38" stroke-width="0.7" fill="none"/>
<path d="M395,341 C400,345 404,346 408.2,346 C412.4,346 416.4,345 421.4,341" stroke="#3e3936" stroke-width="0.6" fill="none"/>
<circle cx="408.2" cy="261.3" r="1.5" fill="#c98c86"/>
<line x1="406.00" y1="263.00" x2="396.50" y2="259.50" stroke="#8a8a8a" stroke-width="0.3" stroke-linecap="butt"/>
<line x1="406.00" y1="263.50" x2="397.00" y2="262.80" stroke="#8a8a8a" stroke-width="0.3" stroke-linecap="butt"/>
<line x1="406.30" y1="264.00" x2="399.50" y2="267.00" stroke="#8a8a8a" stroke-width="0.3" stroke-linecap="butt"/>
<line x1="410.40" y1="263.00" x2="419.90" y2="259.50" stroke="#8a8a8a" stroke-width="0.3" stroke-linecap="butt"/>
<line x1="410.40" y1="263.50" x2="419.40" y2="262.80" stroke="#8a8a8a" stroke-width="0.3" stroke-linecap="butt"/>
<line x1="410.10" y1="264.00" x2="416.90" y2="267.00" stroke="#8a8a8a" stroke-width="0.3" stroke-linecap="butt"/>
<line x1="432.6" y1="352.4" x2="437.2" y2="349.9" stroke="#4fb3a9" stroke-width="1.0"/>
<line x1="436.8" y1="349.4" x2="464.6" y2="334.9" stroke="#8fb5c4" stroke-width="3.2"/>
<line x1="437.0" y1="349.4" x2="464.4" y2="335.0" stroke="#d3e9f2" stroke-width="2.0"/>
<line x1="464.4" y1="331.8" x2="467.4" y2="337.4" stroke="#9a9a9a" stroke-width="2.0"/>
<line x1="467.0" y1="333.6" x2="498.0" y2="318.5" stroke="#b9b9b9" stroke-width="2.2"/>
<line x1="467.2" y1="333.6" x2="497.8" y2="318.6" stroke="#ececec" stroke-width="1.1"/>
<line x1="497.6" y1="316.4" x2="499.8" y2="320.6" stroke="#b0b0b0" stroke-width="1.4"/>
<text x="440.50" y="367.20" font-size="14.1" font-weight="normal" font-style="normal" text-anchor="start" fill="#000" >MAM</text>
</svg></body></html>
